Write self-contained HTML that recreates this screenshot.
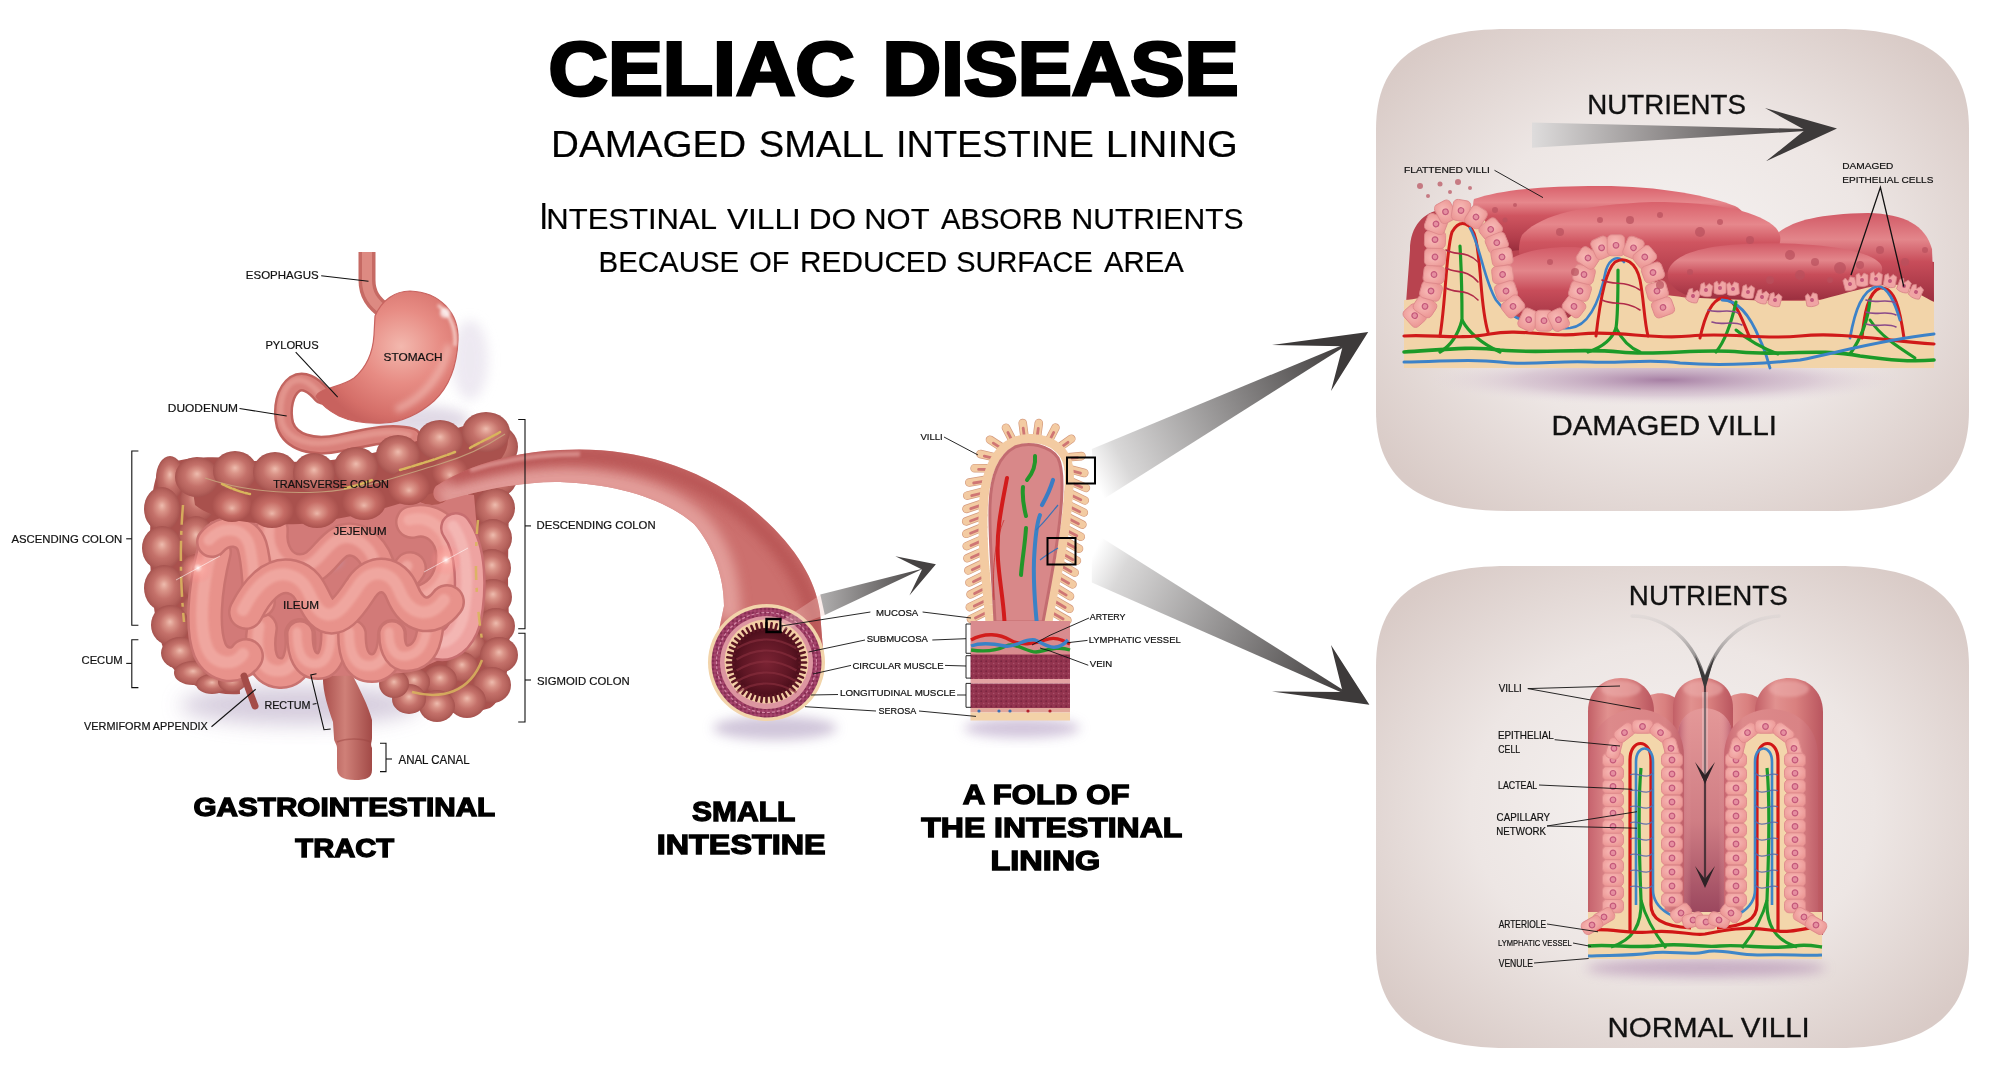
<!DOCTYPE html>
<html><head><meta charset="utf-8">
<style>
html,body{margin:0;padding:0;background:#fff;width:2000px;height:1071px;overflow:hidden}
svg{display:block;opacity:0.999}
text{font-family:"Liberation Sans",sans-serif}
</style></head>
<body>
<svg width="2000" height="1071" viewBox="0 0 2000 1071">
<defs>
<radialGradient id="pbg" cx="0.5" cy="0.5" r="0.62">
<stop offset="0" stop-color="#f6f3f2"/>
<stop offset="0.55" stop-color="#ede6e4"/>
<stop offset="1" stop-color="#d9cbc7"/>
</radialGradient>
<linearGradient id="shaft" x1="0" y1="0" x2="1" y2="0">
<stop offset="0" stop-color="#dcdada"/>
<stop offset="1" stop-color="#3f3b3b"/>
</linearGradient>
</defs>
<!-- panels -->
<path d="M1508,29 L1837,29 C1926.8,29 1969,61.0 1969,129 L1969,411 C1969,479.0 1926.8,511 1837,511 L1508,511 C1418.2,511 1376,479.0 1376,411 L1376,129 C1376,61.0 1418.2,29 1508,29 Z" fill="url(#pbg)"/>
<path d="M1508,566 L1837,566 C1926.8,566 1969,598.0 1969,666 L1969,948 C1969,1016.0 1926.8,1048 1837,1048 L1508,1048 C1418.2,1048 1376,1016.0 1376,948 L1376,666 C1376,598.0 1418.2,566 1508,566 Z" fill="url(#pbg)"/>
<defs>
<radialGradient id="hg" cx="0.5" cy="0.5" r="0.5" fx="0.5" fy="0.42">
<stop offset="0" stop-color="#eebcae"/>
<stop offset="0.25" stop-color="#da9488"/>
<stop offset="0.55" stop-color="#c4716a"/>
<stop offset="0.85" stop-color="#b3605a"/>
<stop offset="1" stop-color="#a6534f"/>
</radialGradient>
<radialGradient id="hg2" cx="0.5" cy="0.5" r="0.5" fx="0.5" fy="0.6">
<stop offset="0" stop-color="#ecb8aa"/>
<stop offset="0.2" stop-color="#dc968a"/>
<stop offset="0.55" stop-color="#c56c65"/>
<stop offset="1" stop-color="#a9514d"/>
</radialGradient>
<radialGradient id="stg2" cx="0.6" cy="0.42" r="0.62">
<stop offset="0" stop-color="#f3b8ae"/>
<stop offset="0.45" stop-color="#e78c84"/>
<stop offset="0.85" stop-color="#d56f69"/>
<stop offset="1" stop-color="#c8625e"/>
</radialGradient>
<linearGradient id="rect" x1="0" y1="0" x2="1" y2="0">
<stop offset="0" stop-color="#a94f4c"/>
<stop offset="0.45" stop-color="#cf8078"/>
<stop offset="1" stop-color="#a24a47"/>
</linearGradient>
<filter id="blur6" x="-50%" y="-50%" width="200%" height="200%"><feGaussianBlur stdDeviation="6"/></filter>
<filter id="blur10" x="-50%" y="-50%" width="200%" height="200%"><feGaussianBlur stdDeviation="10"/></filter>
<filter id="blur3" x="-50%" y="-50%" width="200%" height="200%"><feGaussianBlur stdDeviation="3"/></filter>
<filter id="blur2" x="-50%" y="-50%" width="200%" height="200%"><feGaussianBlur stdDeviation="1.6"/></filter>
</defs>

<g id="gi">
<ellipse cx="300" cy="705" rx="120" ry="20" fill="#d2c8da" filter="url(#blur10)" opacity="0.9"/>
<ellipse cx="420" cy="420" rx="50" ry="14" fill="#d9d0e0" filter="url(#blur6)" opacity="0.8"/>
<ellipse cx="470" cy="360" rx="18" ry="40" fill="#e6e0ec" filter="url(#blur6)" opacity="0.7"/>
<path d="M367,252 L367,280 C367,294 373,303 386,312" fill="none" stroke="#c66a64" stroke-width="17"/>
<path d="M367,252 L367,280 C367,294 373,303 386,312" fill="none" stroke="#dd8a82" stroke-width="10"/>
<path d="M322,395 C313,384 303,379 295,384 C285,391 281,408 285,425 C291,442 312,449 340,443 C368,437 392,431 412,437" fill="none" stroke="#c0625d" stroke-width="19" stroke-linecap="round"/>
<path d="M322,395 C313,384 303,379 295,384 C285,391 281,408 285,425 C291,442 312,449 340,443 C368,437 392,431 412,437" fill="none" stroke="#d9807a" stroke-width="14" stroke-linecap="round"/>
<path d="M322,395 C313,384 303,379 295,384 C285,391 281,408 285,425 C291,442 312,449 340,443 C368,437 392,431 412,437" fill="none" stroke="#e9a39a" stroke-width="6" stroke-linecap="round" transform="translate(-3,-2)" opacity="0.6" filter="url(#blur2)"/>
<path d="M375,316 C382,300 395,291 410,291 C440,292 459,313 458,340 C457,366 449,387 434,401 C418,415 400,422 384,423 C366,424 350,421 339,416 C329,411 321,404 316,397 C318,388 340,388 354,378 C367,367 373,351 374,335 Z" fill="url(#stg2)" stroke="#c8635f" stroke-width="1.2"/>
<path d="M438,305 C452,316 456,332 455,346" fill="none" stroke="#fbe0da" stroke-width="3" opacity="0.85" filter="url(#blur2)"/>
<path d="M396,410 C425,398 444,372 449,345" fill="none" stroke="#f7cdc5" stroke-width="7" opacity="0.55" filter="url(#blur3)"/>
<circle cx="445" cy="313" r="5" fill="#fff" opacity="0.7" filter="url(#blur2)"/>
<path d="M158,472 C168,458 200,456 232,458 L240,694 C218,696 192,688 176,672 C158,652 150,600 150,545 C150,510 152,486 158,472 Z" fill="#a9514d"/>
<path d="M468,425 C488,418 505,422 508,440 C511,500 506,560 509,620 C511,662 506,698 490,708 C468,716 430,714 400,702 C388,690 390,668 402,658 L468,640 Z" fill="#a9514d"/>
<ellipse cx="198" cy="500" rx="18" ry="22" fill="url(#hg)"/>
<ellipse cx="196" cy="538" rx="18" ry="22" fill="url(#hg)"/>
<ellipse cx="196" cy="576" rx="18" ry="22" fill="url(#hg)"/>
<ellipse cx="199" cy="612" rx="18" ry="20" fill="url(#hg)"/>
<ellipse cx="206" cy="645" rx="16" ry="18" fill="url(#hg)"/>
<ellipse cx="222" cy="668" rx="15" ry="15" fill="url(#hg)"/>
<ellipse cx="170" cy="478" rx="14" ry="22" fill="url(#hg)"/>
<ellipse cx="162" cy="509" rx="18" ry="22" fill="url(#hg)"/>
<ellipse cx="162" cy="548" rx="20" ry="22" fill="url(#hg)"/>
<ellipse cx="164" cy="588" rx="20" ry="23" fill="url(#hg)"/>
<ellipse cx="170" cy="625" rx="19" ry="20" fill="url(#hg)"/>
<ellipse cx="180" cy="653" rx="19" ry="16" fill="url(#hg)"/>
<ellipse cx="193" cy="673" rx="19" ry="12" fill="url(#hg)"/>
<ellipse cx="212" cy="684" rx="16" ry="10" fill="url(#hg)"/>
<ellipse cx="232" cy="682" rx="14" ry="10" fill="url(#hg)"/>
<ellipse cx="470" cy="645" rx="15" ry="15" fill="url(#hg)"/>
<ellipse cx="462" cy="667" rx="16" ry="15" fill="url(#hg)"/>
<ellipse cx="440" cy="680" rx="17" ry="15" fill="url(#hg)"/>
<ellipse cx="414" cy="682" rx="16" ry="14" fill="url(#hg)"/>
<ellipse cx="470" cy="620" rx="14" ry="14" fill="url(#hg)"/>
<ellipse cx="496" cy="447" rx="22" ry="22" fill="url(#hg)"/>
<ellipse cx="497" cy="478" rx="20" ry="19" fill="url(#hg)"/>
<ellipse cx="495" cy="508" rx="20" ry="20" fill="url(#hg)"/>
<ellipse cx="493" cy="538" rx="19" ry="19" fill="url(#hg)"/>
<ellipse cx="492" cy="568" rx="19" ry="19" fill="url(#hg)"/>
<ellipse cx="493" cy="597" rx="19" ry="18" fill="url(#hg)"/>
<ellipse cx="496" cy="626" rx="19" ry="18" fill="url(#hg)"/>
<ellipse cx="499" cy="655" rx="19" ry="18" fill="url(#hg)"/>
<ellipse cx="492" cy="685" rx="19" ry="18" fill="url(#hg)"/>
<ellipse cx="467" cy="701" rx="19" ry="17" fill="url(#hg)"/>
<ellipse cx="437" cy="706" rx="18" ry="16" fill="url(#hg)"/>
<ellipse cx="409" cy="699" rx="17" ry="15" fill="url(#hg)"/>
<ellipse cx="394" cy="684" rx="15" ry="14" fill="url(#hg)"/>
<path d="M323,674 C330,666 346,666 352,674 C360,690 368,705 372,720 L372,738 C372,742 370,744 372,748 L372,770 C372,778 366,780 355,780 C342,780 337,776 337,768 L337,748 C337,744 334,742 334,738 L333,722 C328,708 322,690 323,674 Z" fill="url(#rect)"/>
<path d="M337,742 C346,738 362,738 371,742" fill="none" stroke="#9c4542" stroke-width="1.5" opacity="0.5"/>
<path d="M210,522 C250,512 300,516 350,510 C400,500 440,490 474,495 C480,560 482,610 476,630 C468,650 440,660 410,672 C380,676 340,676 300,676 C262,676 232,676 214,670 C202,650 202,560 210,522 Z" fill="#d27a78"/>
<ellipse cx="432" cy="496" rx="16" ry="9" fill="#b25852"/>
<ellipse cx="262" cy="545" rx="14" ry="10" fill="#b9a6c8" opacity="0.8" filter="url(#blur3)"/>
<ellipse cx="330" cy="560" rx="12" ry="8" fill="#b9a6c8" opacity="0.6" filter="url(#blur3)"/>
<path d="M272,530 C270,550 280,570 300,570 C320,570 326,550 340,542 C356,534 372,547 378,564 C384,582 400,584 410,568" fill="none" stroke="#c97370" stroke-width="34" stroke-linecap="round" stroke-linejoin="round"/><path d="M272,530 C270,550 280,570 300,570 C320,570 326,550 340,542 C356,534 372,547 378,564 C384,582 400,584 410,568" fill="none" stroke="#e58e88" stroke-width="29" stroke-linecap="round" stroke-linejoin="round"/><path d="M272,530 C270,550 280,570 300,570 C320,570 326,550 340,542 C356,534 372,547 378,564 C384,582 400,584 410,568" fill="none" stroke="#f6b8b0" stroke-width="11" stroke-linecap="round" stroke-linejoin="round" opacity="0.55" transform="translate(-3,-2)" filter="url(#blur2)"/>
<path d="M412,522 C432,516 452,532 452,556 C452,580 440,594 425,600" fill="none" stroke="#c97370" stroke-width="34" stroke-linecap="round" stroke-linejoin="round"/><path d="M412,522 C432,516 452,532 452,556 C452,580 440,594 425,600" fill="none" stroke="#ec9a94" stroke-width="29" stroke-linecap="round" stroke-linejoin="round"/><path d="M412,522 C432,516 452,532 452,556 C452,580 440,594 425,600" fill="none" stroke="#f6b8b0" stroke-width="11" stroke-linecap="round" stroke-linejoin="round" opacity="0.55" transform="translate(-3,-2)" filter="url(#blur2)"/>
<path d="M456,528 C472,550 472,590 466,620 C460,640 448,648 436,644" fill="none" stroke="#c76e70" stroke-width="32" stroke-linecap="round" stroke-linejoin="round"/><path d="M456,528 C472,550 472,590 466,620 C460,640 448,648 436,644" fill="none" stroke="#eea3a1" stroke-width="27" stroke-linecap="round" stroke-linejoin="round"/><path d="M456,528 C472,550 472,590 466,620 C460,640 448,648 436,644" fill="none" stroke="#f8c6c2" stroke-width="11" stroke-linecap="round" stroke-linejoin="round" opacity="0.55" transform="translate(-3,-2)" filter="url(#blur2)"/>
<path d="M262,628 C258,652 262,672 280,673 C298,674 302,652 300,634" fill="none" stroke="#c97370" stroke-width="32" stroke-linecap="round" stroke-linejoin="round"/><path d="M262,628 C258,652 262,672 280,673 C298,674 302,652 300,634" fill="none" stroke="#e8928b" stroke-width="27" stroke-linecap="round" stroke-linejoin="round"/><path d="M262,628 C258,652 262,672 280,673 C298,674 302,652 300,634" fill="none" stroke="#f6b8b0" stroke-width="11" stroke-linecap="round" stroke-linejoin="round" opacity="0.55" transform="translate(-3,-2)" filter="url(#blur2)"/>
<path d="M300,634 C300,655 306,666 318,666 C330,666 334,652 334,634" fill="none" stroke="#c97370" stroke-width="28" stroke-linecap="round" stroke-linejoin="round"/><path d="M300,634 C300,655 306,666 318,666 C330,666 334,652 334,634" fill="none" stroke="#e8928b" stroke-width="23" stroke-linecap="round" stroke-linejoin="round"/><path d="M300,634 C300,655 306,666 318,666 C330,666 334,652 334,634" fill="none" stroke="#f6b8b0" stroke-width="9" stroke-linecap="round" stroke-linejoin="round" opacity="0.55" transform="translate(-3,-2)" filter="url(#blur2)"/>
<path d="M352,634 C352,656 358,668 372,668 C386,668 392,652 392,634" fill="none" stroke="#c97370" stroke-width="30" stroke-linecap="round" stroke-linejoin="round"/><path d="M352,634 C352,656 358,668 372,668 C386,668 392,652 392,634" fill="none" stroke="#e8928b" stroke-width="25" stroke-linecap="round" stroke-linejoin="round"/><path d="M352,634 C352,656 358,668 372,668 C386,668 392,652 392,634" fill="none" stroke="#f6b8b0" stroke-width="10" stroke-linecap="round" stroke-linejoin="round" opacity="0.55" transform="translate(-3,-2)" filter="url(#blur2)"/>
<path d="M392,634 C392,650 398,660 410,658 C422,656 428,646 430,630" fill="none" stroke="#c97370" stroke-width="28" stroke-linecap="round" stroke-linejoin="round"/><path d="M392,634 C392,650 398,660 410,658 C422,656 428,646 430,630" fill="none" stroke="#e8928b" stroke-width="23" stroke-linecap="round" stroke-linejoin="round"/><path d="M392,634 C392,650 398,660 410,658 C422,656 428,646 430,630" fill="none" stroke="#f6b8b0" stroke-width="9" stroke-linecap="round" stroke-linejoin="round" opacity="0.55" transform="translate(-3,-2)" filter="url(#blur2)"/>
<path d="M214,552 C204,592 202,630 210,650 C218,668 238,668 246,656" fill="none" stroke="#c97370" stroke-width="36" stroke-linecap="round" stroke-linejoin="round"/><path d="M214,552 C204,592 202,630 210,650 C218,668 238,668 246,656" fill="none" stroke="#e8928b" stroke-width="31" stroke-linecap="round" stroke-linejoin="round"/><path d="M214,552 C204,592 202,630 210,650 C218,668 238,668 246,656" fill="none" stroke="#f6b8b0" stroke-width="12" stroke-linecap="round" stroke-linejoin="round" opacity="0.55" transform="translate(-3,-2)" filter="url(#blur2)"/>
<path d="M212,542 C224,528 246,528 252,546 C258,566 256,590 260,602" fill="none" stroke="#c97370" stroke-width="32" stroke-linecap="round" stroke-linejoin="round"/><path d="M212,542 C224,528 246,528 252,546 C258,566 256,590 260,602" fill="none" stroke="#e8928b" stroke-width="27" stroke-linecap="round" stroke-linejoin="round"/><path d="M212,542 C224,528 246,528 252,546 C258,566 256,590 260,602" fill="none" stroke="#f6b8b0" stroke-width="11" stroke-linecap="round" stroke-linejoin="round" opacity="0.55" transform="translate(-3,-2)" filter="url(#blur2)"/>
<path d="M246,612 C256,592 272,572 292,577 C312,582 312,602 322,612 C337,627 352,602 362,587 C374,570 394,572 402,592 C412,617 432,622 447,602" fill="none" stroke="#c97370" stroke-width="36" stroke-linecap="round" stroke-linejoin="round"/><path d="M246,612 C256,592 272,572 292,577 C312,582 312,602 322,612 C337,627 352,602 362,587 C374,570 394,572 402,592 C412,617 432,622 447,602" fill="none" stroke="#e8928b" stroke-width="31" stroke-linecap="round" stroke-linejoin="round"/><path d="M246,612 C256,592 272,572 292,577 C312,582 312,602 322,612 C337,627 352,602 362,587 C374,570 394,572 402,592 C412,617 432,622 447,602" fill="none" stroke="#f6b8b0" stroke-width="12" stroke-linecap="round" stroke-linejoin="round" opacity="0.55" transform="translate(-3,-2)" filter="url(#blur2)"/>
<path d="M190,472 C210,460 240,460 300,462 C360,462 420,440 470,424 C496,418 508,424 508,440 C508,466 472,482 442,490 C402,503 360,518 300,524 C250,526 210,518 195,505 Z" fill="#a9514d"/>
<ellipse cx="197" cy="477" rx="22" ry="20" fill="url(#hg)"/>
<ellipse cx="235" cy="471" rx="22" ry="20" fill="url(#hg)"/>
<ellipse cx="275" cy="472" rx="22" ry="20" fill="url(#hg)"/>
<ellipse cx="314" cy="473" rx="21" ry="20" fill="url(#hg)"/>
<ellipse cx="356" cy="467" rx="22" ry="20" fill="url(#hg)"/>
<ellipse cx="398" cy="455" rx="22" ry="20" fill="url(#hg)"/>
<ellipse cx="440" cy="440" rx="23" ry="20" fill="url(#hg)"/>
<ellipse cx="486" cy="432" rx="24" ry="20" fill="url(#hg)"/>
<ellipse cx="232" cy="505" rx="20" ry="17" fill="url(#hg2)"/>
<ellipse cx="272" cy="510" rx="22" ry="18" fill="url(#hg2)"/>
<ellipse cx="317" cy="510" rx="22" ry="18" fill="url(#hg2)"/>
<ellipse cx="364" cy="502" rx="22" ry="18" fill="url(#hg2)"/>
<ellipse cx="409" cy="487" rx="21" ry="18" fill="url(#hg2)"/>
<ellipse cx="450" cy="472" rx="18" ry="16" fill="url(#hg2)"/>
<path d="M205,478 C240,490 280,494 320,492 C360,490 400,476 440,464 C470,455 490,444 505,434" fill="none" stroke="#c7a27c" stroke-width="1.2" opacity="0.9"/>
<path d="M222,484 C230,488 240,492 250,494" fill="none" stroke="#d8b65c" stroke-width="2.5" stroke-linecap="round" stroke-dasharray="3 1.5 6 2"/>
<path d="M345,488 C355,486 362,484 372,480" fill="none" stroke="#d8b65c" stroke-width="2.5" stroke-linecap="round" stroke-dasharray="3 1.5 6 2"/>
<path d="M400,470 C420,464 440,458 455,452" fill="none" stroke="#d8b65c" stroke-width="2.5" stroke-linecap="round" stroke-dasharray="3 1.5 6 2"/>
<path d="M470,448 C480,442 490,438 500,432" fill="none" stroke="#d8b65c" stroke-width="2.5" stroke-linecap="round" stroke-dasharray="3 1.5 6 2"/>
<path d="M183,505 C180,540 180,580 184,622" fill="none" stroke="#d9b55e" stroke-width="2.5" opacity="0.9" stroke-dasharray="20 6 4 6"/>
<path d="M478,520 C474,560 476,600 482,640" fill="none" stroke="#d9b55e" stroke-width="2.5" opacity="0.9" stroke-dasharray="14 8 4 20"/>
<path d="M412,692 C442,700 470,692 482,660" fill="none" stroke="#d9b55e" stroke-width="2.5" opacity="0.85"/>
<path d="M244,676 C248,688 252,698 255,706" fill="none" stroke="#a44c48" stroke-width="7" stroke-linecap="round"/>
<radialGradient id="spark" cx="0.5" cy="0.5" r="0.5"><stop offset="0" stop-color="#ffffff" stop-opacity="0.95"/><stop offset="0.3" stop-color="#ffb0a8" stop-opacity="0.6"/><stop offset="1" stop-color="#ff8080" stop-opacity="0"/></radialGradient>
<circle cx="198" cy="568" r="16" fill="url(#spark)"/>
<path d="M176,580 L220,556" stroke="#fff" stroke-width="0.8" opacity="0.7"/>
<circle cx="446" cy="560" r="16" fill="url(#spark)"/>
<path d="M424,572 L468,548" stroke="#fff" stroke-width="0.8" opacity="0.7"/>
</g>
<defs>
<linearGradient id="tubeg" x1="0" y1="0" x2="0" y2="1">
<stop offset="0" stop-color="#dc8f8c"/>
<stop offset="0.5" stop-color="#d07774"/>
<stop offset="1" stop-color="#b95d5b"/>
</linearGradient>
<linearGradient id="tubeg2" x1="0" y1="0" x2="1" y2="0">
<stop offset="0" stop-color="#c4696a"/>
<stop offset="0.35" stop-color="#dd9390"/>
<stop offset="0.7" stop-color="#cd7270"/>
<stop offset="1" stop-color="#b25452"/>
</linearGradient>
<linearGradient id="arrg" x1="0" y1="0" x2="1" y2="0">
<stop offset="0" stop-color="#b0aeae"/>
<stop offset="1" stop-color="#464343"/>
</linearGradient>
<radialGradient id="lumen" cx="0.5" cy="0.5" r="0.5">
<stop offset="0" stop-color="#7a2333"/>
<stop offset="0.7" stop-color="#5e1624"/>
<stop offset="1" stop-color="#4a0e1a"/>
</radialGradient>
<pattern id="musc" width="4" height="4" patternUnits="userSpaceOnUse">
<rect width="4" height="4" fill="#9c3b63"/>
<circle cx="1" cy="1" r="0.9" fill="#7e2a4c"/>
<circle cx="3" cy="3" r="0.7" fill="#b55a7c"/>
</pattern>
</defs>
<g id="tube">
<ellipse cx="775" cy="728" rx="62" ry="12" fill="#cbbfd6" filter="url(#blur6)" opacity="0.9"/>
<clipPath id="tubeclip"><path d="M436,486 C470,464 515,452 560,450 C625,446 690,462 745,503 C790,538 815,575 820,612 L824,662 L712,662 L724,606 C724,575 712,545 694,524 C664,498 615,484 560,482 C520,481 475,492 440,502 C432,500 432,490 436,486 Z"/></clipPath>
<path d="M436,486 C470,464 515,452 560,450 C625,446 690,462 745,503 C790,538 815,575 820,612 L824,662 L712,662 L724,606 C724,575 712,545 694,524 C664,498 615,484 560,482 C520,481 475,492 440,502 C432,500 432,490 436,486 Z" fill="#cc706e"/>
<g clip-path="url(#tubeclip)">
<path d="M440,497 C480,485 520,478 560,478 C620,480 670,495 700,525 C722,550 730,580 730,620" fill="none" stroke="#e6a5a1" stroke-width="22" opacity="0.85" filter="url(#blur6)"/>
<path d="M450,478 C500,462 540,456 570,455 C630,455 690,472 738,508 C778,540 805,578 815,620 L818,662" fill="none" stroke="#b4504f" stroke-width="16" opacity="0.8" filter="url(#blur6)"/>
<path d="M470,470 C510,458 545,454 580,454" fill="none" stroke="#e9aaa6" stroke-width="5" opacity="0.6" filter="url(#blur2)"/>
</g>
<circle cx="766.5" cy="662.5" r="58.5" fill="#f2d4aa"/>
<circle cx="766.5" cy="662.5" r="55" fill="url(#musc)"/>
<circle cx="766.5" cy="662.5" r="50" fill="none" stroke="#d58aa6" stroke-width="1.2" stroke-dasharray="3 2"/>
<circle cx="766.5" cy="662.5" r="46.5" fill="#dc95a0"/>
<circle cx="766.5" cy="661.5" r="42" fill="#f3cfa6"/>
<circle cx="766.5" cy="662.5" r="34.5" fill="url(#lumen)"/>
<line x1="799.5" y1="662.5" x2="806.0" y2="662.5" stroke="#5a1522" stroke-width="2.6" stroke-linecap="round"/>
<line x1="799.2" y1="666.8" x2="805.7" y2="667.7" stroke="#5a1522" stroke-width="2.6" stroke-linecap="round"/>
<line x1="798.4" y1="671.0" x2="804.7" y2="672.7" stroke="#5a1522" stroke-width="2.6" stroke-linecap="round"/>
<line x1="797.0" y1="675.1" x2="803.0" y2="677.6" stroke="#5a1522" stroke-width="2.6" stroke-linecap="round"/>
<line x1="795.1" y1="679.0" x2="800.7" y2="682.2" stroke="#5a1522" stroke-width="2.6" stroke-linecap="round"/>
<line x1="792.7" y1="682.6" x2="797.8" y2="686.5" stroke="#5a1522" stroke-width="2.6" stroke-linecap="round"/>
<line x1="789.8" y1="685.8" x2="794.4" y2="690.4" stroke="#5a1522" stroke-width="2.6" stroke-linecap="round"/>
<line x1="786.6" y1="688.7" x2="790.5" y2="693.8" stroke="#5a1522" stroke-width="2.6" stroke-linecap="round"/>
<line x1="783.0" y1="691.1" x2="786.2" y2="696.7" stroke="#5a1522" stroke-width="2.6" stroke-linecap="round"/>
<line x1="779.1" y1="693.0" x2="781.6" y2="699.0" stroke="#5a1522" stroke-width="2.6" stroke-linecap="round"/>
<line x1="775.0" y1="694.4" x2="776.7" y2="700.7" stroke="#5a1522" stroke-width="2.6" stroke-linecap="round"/>
<line x1="770.8" y1="695.2" x2="771.7" y2="701.7" stroke="#5a1522" stroke-width="2.6" stroke-linecap="round"/>
<line x1="766.5" y1="695.5" x2="766.5" y2="702.0" stroke="#5a1522" stroke-width="2.6" stroke-linecap="round"/>
<line x1="762.2" y1="695.2" x2="761.3" y2="701.7" stroke="#5a1522" stroke-width="2.6" stroke-linecap="round"/>
<line x1="758.0" y1="694.4" x2="756.3" y2="700.7" stroke="#5a1522" stroke-width="2.6" stroke-linecap="round"/>
<line x1="753.9" y1="693.0" x2="751.4" y2="699.0" stroke="#5a1522" stroke-width="2.6" stroke-linecap="round"/>
<line x1="750.0" y1="691.1" x2="746.8" y2="696.7" stroke="#5a1522" stroke-width="2.6" stroke-linecap="round"/>
<line x1="746.4" y1="688.7" x2="742.5" y2="693.8" stroke="#5a1522" stroke-width="2.6" stroke-linecap="round"/>
<line x1="743.2" y1="685.8" x2="738.6" y2="690.4" stroke="#5a1522" stroke-width="2.6" stroke-linecap="round"/>
<line x1="740.3" y1="682.6" x2="735.2" y2="686.5" stroke="#5a1522" stroke-width="2.6" stroke-linecap="round"/>
<line x1="737.9" y1="679.0" x2="732.3" y2="682.2" stroke="#5a1522" stroke-width="2.6" stroke-linecap="round"/>
<line x1="736.0" y1="675.1" x2="730.0" y2="677.6" stroke="#5a1522" stroke-width="2.6" stroke-linecap="round"/>
<line x1="734.6" y1="671.0" x2="728.3" y2="672.7" stroke="#5a1522" stroke-width="2.6" stroke-linecap="round"/>
<line x1="733.8" y1="666.8" x2="727.3" y2="667.7" stroke="#5a1522" stroke-width="2.6" stroke-linecap="round"/>
<line x1="733.5" y1="662.5" x2="727.0" y2="662.5" stroke="#5a1522" stroke-width="2.6" stroke-linecap="round"/>
<line x1="733.8" y1="658.2" x2="727.3" y2="657.3" stroke="#5a1522" stroke-width="2.6" stroke-linecap="round"/>
<line x1="734.6" y1="654.0" x2="728.3" y2="652.3" stroke="#5a1522" stroke-width="2.6" stroke-linecap="round"/>
<line x1="736.0" y1="649.9" x2="730.0" y2="647.4" stroke="#5a1522" stroke-width="2.6" stroke-linecap="round"/>
<line x1="737.9" y1="646.0" x2="732.3" y2="642.8" stroke="#5a1522" stroke-width="2.6" stroke-linecap="round"/>
<line x1="740.3" y1="642.4" x2="735.2" y2="638.5" stroke="#5a1522" stroke-width="2.6" stroke-linecap="round"/>
<line x1="743.2" y1="639.2" x2="738.6" y2="634.6" stroke="#5a1522" stroke-width="2.6" stroke-linecap="round"/>
<line x1="746.4" y1="636.3" x2="742.5" y2="631.2" stroke="#5a1522" stroke-width="2.6" stroke-linecap="round"/>
<line x1="750.0" y1="633.9" x2="746.8" y2="628.3" stroke="#5a1522" stroke-width="2.6" stroke-linecap="round"/>
<line x1="753.9" y1="632.0" x2="751.4" y2="626.0" stroke="#5a1522" stroke-width="2.6" stroke-linecap="round"/>
<line x1="758.0" y1="630.6" x2="756.3" y2="624.3" stroke="#5a1522" stroke-width="2.6" stroke-linecap="round"/>
<line x1="762.2" y1="629.8" x2="761.3" y2="623.3" stroke="#5a1522" stroke-width="2.6" stroke-linecap="round"/>
<line x1="766.5" y1="629.5" x2="766.5" y2="623.0" stroke="#5a1522" stroke-width="2.6" stroke-linecap="round"/>
<line x1="770.8" y1="629.8" x2="771.7" y2="623.3" stroke="#5a1522" stroke-width="2.6" stroke-linecap="round"/>
<line x1="775.0" y1="630.6" x2="776.7" y2="624.3" stroke="#5a1522" stroke-width="2.6" stroke-linecap="round"/>
<line x1="779.1" y1="632.0" x2="781.6" y2="626.0" stroke="#5a1522" stroke-width="2.6" stroke-linecap="round"/>
<line x1="783.0" y1="633.9" x2="786.2" y2="628.3" stroke="#5a1522" stroke-width="2.6" stroke-linecap="round"/>
<line x1="786.6" y1="636.3" x2="790.5" y2="631.2" stroke="#5a1522" stroke-width="2.6" stroke-linecap="round"/>
<line x1="789.8" y1="639.2" x2="794.4" y2="634.6" stroke="#5a1522" stroke-width="2.6" stroke-linecap="round"/>
<line x1="792.7" y1="642.4" x2="797.8" y2="638.5" stroke="#5a1522" stroke-width="2.6" stroke-linecap="round"/>
<line x1="795.1" y1="646.0" x2="800.7" y2="642.8" stroke="#5a1522" stroke-width="2.6" stroke-linecap="round"/>
<line x1="797.0" y1="649.9" x2="803.0" y2="647.4" stroke="#5a1522" stroke-width="2.6" stroke-linecap="round"/>
<line x1="798.4" y1="654.0" x2="804.7" y2="652.3" stroke="#5a1522" stroke-width="2.6" stroke-linecap="round"/>
<line x1="799.2" y1="658.2" x2="805.7" y2="657.3" stroke="#5a1522" stroke-width="2.6" stroke-linecap="round"/>
<path d="M736.5,648.5 C756.5,636.5 776.5,636.5 796.5,648.5" fill="none" stroke="#8a3040" stroke-width="2.2" opacity="0.6"/>
<path d="M736.5,659.5 C756.5,647.5 776.5,647.5 796.5,659.5" fill="none" stroke="#8a3040" stroke-width="2.2" opacity="0.6"/>
<path d="M736.5,670.5 C756.5,658.5 776.5,658.5 796.5,670.5" fill="none" stroke="#8a3040" stroke-width="2.2" opacity="0.6"/>
<path d="M736.5,681.5 C756.5,669.5 776.5,669.5 796.5,681.5" fill="none" stroke="#8a3040" stroke-width="2.2" opacity="0.6"/>
<path d="M736.5,692.5 C756.5,680.5 776.5,680.5 796.5,692.5" fill="none" stroke="#8a3040" stroke-width="2.2" opacity="0.6"/>
<rect x="766.5" y="619" width="14" height="13" fill="none" stroke="#000" stroke-width="2.4"/>
<path d="M781,621 L821,594.4 L825,615 L781,631 Z" fill="#f4c8c4" opacity="0.35"/>
<path d="M820.3,594.4 L923.4,568.6 L824.8,615 Z" fill="url(#arrg)"/>
<path d="M895.4,556.3 L935.9,564.2 L909.4,595.5 L922,569.5 Z" fill="#454242"/>
</g>
<defs>
<linearGradient id="bigarr1" gradientUnits="userSpaceOnUse" x1="1092" y1="475" x2="1343" y2="345">
<stop offset="0" stop-color="#ffffff"/>
<stop offset="0.12" stop-color="#d9d8d8"/>
<stop offset="1" stop-color="#3f3c3c"/>
</linearGradient>
<linearGradient id="bigarr2" gradientUnits="userSpaceOnUse" x1="1092" y1="556" x2="1343" y2="692">
<stop offset="0" stop-color="#ffffff"/>
<stop offset="0.12" stop-color="#d9d8d8"/>
<stop offset="1" stop-color="#3f3c3c"/>
</linearGradient>
</defs>
<g id="arrows">
<path d="M1091.8,449 L1342.7,345 L1344,347 L1095.7,504 Z" fill="url(#bigarr1)"/>
<path d="M1272,345 L1368.2,332 L1331,391 L1342.7,346.3 Z" fill="#3d3a3a"/>
<path d="M1091.8,531.4 L1344,690.5 L1342.7,693 L1091.8,582.4 Z" fill="url(#bigarr2)"/>
<path d="M1331,645 L1369.4,704.7 L1272,691.4 L1342.7,692 Z" fill="#3d3a3a"/>
</g>
<defs>
<pattern id="musc2" width="5" height="5" patternUnits="userSpaceOnUse">
<rect width="5" height="5" fill="#93344f"/>
<circle cx="1.2" cy="1.2" r="1" fill="#7a2540"/>
<circle cx="3.7" cy="3.5" r="0.8" fill="#a8506a"/>
</pattern>
</defs>
<g id="fold">
<ellipse cx="1022" cy="728" rx="58" ry="10" fill="#cdbfd8" filter="url(#blur6)" opacity="0.9"/>
<line x1="988.9" y1="610.1" x2="970.9" y2="619.0" stroke="#d49a7e" stroke-width="8.6" stroke-linecap="round"/>
<line x1="987.8" y1="598.3" x2="969.8" y2="607.1" stroke="#d49a7e" stroke-width="8.6" stroke-linecap="round"/>
<line x1="986.7" y1="586.4" x2="970.5" y2="594.4" stroke="#d49a7e" stroke-width="8.6" stroke-linecap="round"/>
<line x1="985.5" y1="574.6" x2="969.4" y2="582.5" stroke="#d49a7e" stroke-width="8.6" stroke-linecap="round"/>
<line x1="984.5" y1="562.7" x2="968.3" y2="570.4" stroke="#d49a7e" stroke-width="8.6" stroke-linecap="round"/>
<line x1="983.8" y1="550.8" x2="967.4" y2="558.2" stroke="#d49a7e" stroke-width="8.6" stroke-linecap="round"/>
<line x1="983.2" y1="538.9" x2="966.7" y2="546.1" stroke="#d49a7e" stroke-width="8.6" stroke-linecap="round"/>
<line x1="983.0" y1="527.0" x2="966.3" y2="533.8" stroke="#d49a7e" stroke-width="8.6" stroke-linecap="round"/>
<line x1="983.1" y1="515.1" x2="966.2" y2="521.4" stroke="#d49a7e" stroke-width="8.6" stroke-linecap="round"/>
<line x1="983.6" y1="503.2" x2="966.5" y2="508.9" stroke="#d49a7e" stroke-width="8.6" stroke-linecap="round"/>
<line x1="984.8" y1="491.3" x2="967.3" y2="495.6" stroke="#d49a7e" stroke-width="8.6" stroke-linecap="round"/>
<line x1="987.1" y1="479.6" x2="969.3" y2="482.5" stroke="#d49a7e" stroke-width="8.6" stroke-linecap="round"/>
<line x1="990.6" y1="468.3" x2="974.6" y2="468.2" stroke="#d49a7e" stroke-width="8.6" stroke-linecap="round"/>
<line x1="996.0" y1="457.6" x2="980.4" y2="454.0" stroke="#d49a7e" stroke-width="8.6" stroke-linecap="round"/>
<line x1="1003.4" y1="448.4" x2="990.0" y2="439.7" stroke="#d49a7e" stroke-width="8.6" stroke-linecap="round"/>
<line x1="1013.4" y1="442.0" x2="1006.0" y2="427.8" stroke="#d49a7e" stroke-width="8.6" stroke-linecap="round"/>
<line x1="1024.8" y1="438.9" x2="1022.7" y2="423.0" stroke="#d49a7e" stroke-width="8.6" stroke-linecap="round"/>
<line x1="1036.7" y1="439.0" x2="1038.8" y2="423.1" stroke="#d49a7e" stroke-width="8.6" stroke-linecap="round"/>
<line x1="1048.2" y1="441.9" x2="1055.5" y2="427.6" stroke="#d49a7e" stroke-width="8.6" stroke-linecap="round"/>
<line x1="1058.3" y1="448.1" x2="1071.3" y2="438.8" stroke="#d49a7e" stroke-width="8.6" stroke-linecap="round"/>
<line x1="1065.5" y1="457.5" x2="1081.5" y2="456.1" stroke="#d49a7e" stroke-width="8.6" stroke-linecap="round"/>
<line x1="1068.9" y1="468.9" x2="1084.3" y2="473.0" stroke="#d49a7e" stroke-width="8.6" stroke-linecap="round"/>
<line x1="1069.3" y1="480.8" x2="1085.9" y2="487.9" stroke="#d49a7e" stroke-width="8.6" stroke-linecap="round"/>
<line x1="1068.6" y1="492.7" x2="1084.8" y2="500.5" stroke="#d49a7e" stroke-width="8.6" stroke-linecap="round"/>
<line x1="1067.6" y1="504.6" x2="1083.8" y2="512.5" stroke="#d49a7e" stroke-width="8.6" stroke-linecap="round"/>
<line x1="1066.4" y1="516.4" x2="1082.4" y2="524.6" stroke="#d49a7e" stroke-width="8.6" stroke-linecap="round"/>
<line x1="1064.9" y1="528.2" x2="1080.8" y2="536.7" stroke="#d49a7e" stroke-width="8.6" stroke-linecap="round"/>
<line x1="1063.3" y1="540.0" x2="1079.0" y2="548.7" stroke="#d49a7e" stroke-width="8.6" stroke-linecap="round"/>
<line x1="1061.3" y1="551.8" x2="1076.9" y2="560.7" stroke="#d49a7e" stroke-width="8.6" stroke-linecap="round"/>
<line x1="1059.2" y1="563.5" x2="1074.7" y2="572.6" stroke="#d49a7e" stroke-width="8.6" stroke-linecap="round"/>
<line x1="1057.0" y1="575.2" x2="1072.5" y2="584.4" stroke="#d49a7e" stroke-width="8.6" stroke-linecap="round"/>
<line x1="1054.7" y1="586.9" x2="1070.0" y2="596.2" stroke="#d49a7e" stroke-width="8.6" stroke-linecap="round"/>
<line x1="1052.3" y1="598.6" x2="1069.5" y2="608.8" stroke="#d49a7e" stroke-width="8.6" stroke-linecap="round"/>
<line x1="1050.1" y1="610.3" x2="1067.4" y2="620.3" stroke="#d49a7e" stroke-width="8.6" stroke-linecap="round"/>
<line x1="988.9" y1="610.1" x2="970.9" y2="619.0" stroke="#f3cba2" stroke-width="7.2" stroke-linecap="round"/>
<line x1="987.8" y1="598.3" x2="969.8" y2="607.1" stroke="#f3cba2" stroke-width="7.2" stroke-linecap="round"/>
<line x1="986.7" y1="586.4" x2="970.5" y2="594.4" stroke="#f3cba2" stroke-width="7.2" stroke-linecap="round"/>
<line x1="985.5" y1="574.6" x2="969.4" y2="582.5" stroke="#f3cba2" stroke-width="7.2" stroke-linecap="round"/>
<line x1="984.5" y1="562.7" x2="968.3" y2="570.4" stroke="#f3cba2" stroke-width="7.2" stroke-linecap="round"/>
<line x1="983.8" y1="550.8" x2="967.4" y2="558.2" stroke="#f3cba2" stroke-width="7.2" stroke-linecap="round"/>
<line x1="983.2" y1="538.9" x2="966.7" y2="546.1" stroke="#f3cba2" stroke-width="7.2" stroke-linecap="round"/>
<line x1="983.0" y1="527.0" x2="966.3" y2="533.8" stroke="#f3cba2" stroke-width="7.2" stroke-linecap="round"/>
<line x1="983.1" y1="515.1" x2="966.2" y2="521.4" stroke="#f3cba2" stroke-width="7.2" stroke-linecap="round"/>
<line x1="983.6" y1="503.2" x2="966.5" y2="508.9" stroke="#f3cba2" stroke-width="7.2" stroke-linecap="round"/>
<line x1="984.8" y1="491.3" x2="967.3" y2="495.6" stroke="#f3cba2" stroke-width="7.2" stroke-linecap="round"/>
<line x1="987.1" y1="479.6" x2="969.3" y2="482.5" stroke="#f3cba2" stroke-width="7.2" stroke-linecap="round"/>
<line x1="990.6" y1="468.3" x2="974.6" y2="468.2" stroke="#f3cba2" stroke-width="7.2" stroke-linecap="round"/>
<line x1="996.0" y1="457.6" x2="980.4" y2="454.0" stroke="#f3cba2" stroke-width="7.2" stroke-linecap="round"/>
<line x1="1003.4" y1="448.4" x2="990.0" y2="439.7" stroke="#f3cba2" stroke-width="7.2" stroke-linecap="round"/>
<line x1="1013.4" y1="442.0" x2="1006.0" y2="427.8" stroke="#f3cba2" stroke-width="7.2" stroke-linecap="round"/>
<line x1="1024.8" y1="438.9" x2="1022.7" y2="423.0" stroke="#f3cba2" stroke-width="7.2" stroke-linecap="round"/>
<line x1="1036.7" y1="439.0" x2="1038.8" y2="423.1" stroke="#f3cba2" stroke-width="7.2" stroke-linecap="round"/>
<line x1="1048.2" y1="441.9" x2="1055.5" y2="427.6" stroke="#f3cba2" stroke-width="7.2" stroke-linecap="round"/>
<line x1="1058.3" y1="448.1" x2="1071.3" y2="438.8" stroke="#f3cba2" stroke-width="7.2" stroke-linecap="round"/>
<line x1="1065.5" y1="457.5" x2="1081.5" y2="456.1" stroke="#f3cba2" stroke-width="7.2" stroke-linecap="round"/>
<line x1="1068.9" y1="468.9" x2="1084.3" y2="473.0" stroke="#f3cba2" stroke-width="7.2" stroke-linecap="round"/>
<line x1="1069.3" y1="480.8" x2="1085.9" y2="487.9" stroke="#f3cba2" stroke-width="7.2" stroke-linecap="round"/>
<line x1="1068.6" y1="492.7" x2="1084.8" y2="500.5" stroke="#f3cba2" stroke-width="7.2" stroke-linecap="round"/>
<line x1="1067.6" y1="504.6" x2="1083.8" y2="512.5" stroke="#f3cba2" stroke-width="7.2" stroke-linecap="round"/>
<line x1="1066.4" y1="516.4" x2="1082.4" y2="524.6" stroke="#f3cba2" stroke-width="7.2" stroke-linecap="round"/>
<line x1="1064.9" y1="528.2" x2="1080.8" y2="536.7" stroke="#f3cba2" stroke-width="7.2" stroke-linecap="round"/>
<line x1="1063.3" y1="540.0" x2="1079.0" y2="548.7" stroke="#f3cba2" stroke-width="7.2" stroke-linecap="round"/>
<line x1="1061.3" y1="551.8" x2="1076.9" y2="560.7" stroke="#f3cba2" stroke-width="7.2" stroke-linecap="round"/>
<line x1="1059.2" y1="563.5" x2="1074.7" y2="572.6" stroke="#f3cba2" stroke-width="7.2" stroke-linecap="round"/>
<line x1="1057.0" y1="575.2" x2="1072.5" y2="584.4" stroke="#f3cba2" stroke-width="7.2" stroke-linecap="round"/>
<line x1="1054.7" y1="586.9" x2="1070.0" y2="596.2" stroke="#f3cba2" stroke-width="7.2" stroke-linecap="round"/>
<line x1="1052.3" y1="598.6" x2="1069.5" y2="608.8" stroke="#f3cba2" stroke-width="7.2" stroke-linecap="round"/>
<line x1="1050.1" y1="610.3" x2="1067.4" y2="620.3" stroke="#f3cba2" stroke-width="7.2" stroke-linecap="round"/>
<line x1="988.9" y1="611.3" x2="975.4" y2="618.0" stroke="#cf7674" stroke-width="2.8" stroke-linecap="round"/>
<line x1="987.8" y1="599.5" x2="974.3" y2="606.1" stroke="#cf7674" stroke-width="2.8" stroke-linecap="round"/>
<line x1="986.7" y1="587.6" x2="974.6" y2="593.6" stroke="#cf7674" stroke-width="2.8" stroke-linecap="round"/>
<line x1="985.5" y1="575.8" x2="973.4" y2="581.7" stroke="#cf7674" stroke-width="2.8" stroke-linecap="round"/>
<line x1="984.5" y1="563.9" x2="972.3" y2="569.7" stroke="#cf7674" stroke-width="2.8" stroke-linecap="round"/>
<line x1="983.8" y1="552.0" x2="971.5" y2="557.6" stroke="#cf7674" stroke-width="2.8" stroke-linecap="round"/>
<line x1="983.2" y1="540.1" x2="970.9" y2="545.5" stroke="#cf7674" stroke-width="2.8" stroke-linecap="round"/>
<line x1="983.0" y1="528.2" x2="970.5" y2="533.3" stroke="#cf7674" stroke-width="2.8" stroke-linecap="round"/>
<line x1="983.1" y1="516.3" x2="970.5" y2="521.0" stroke="#cf7674" stroke-width="2.8" stroke-linecap="round"/>
<line x1="983.6" y1="504.4" x2="970.8" y2="508.7" stroke="#cf7674" stroke-width="2.8" stroke-linecap="round"/>
<line x1="984.8" y1="492.5" x2="971.7" y2="495.7" stroke="#cf7674" stroke-width="2.8" stroke-linecap="round"/>
<line x1="987.1" y1="480.8" x2="973.7" y2="483.0" stroke="#cf7674" stroke-width="2.8" stroke-linecap="round"/>
<line x1="990.6" y1="469.5" x2="978.6" y2="469.4" stroke="#cf7674" stroke-width="2.8" stroke-linecap="round"/>
<line x1="996.0" y1="458.8" x2="984.3" y2="456.1" stroke="#cf7674" stroke-width="2.8" stroke-linecap="round"/>
<line x1="1003.4" y1="449.6" x2="993.3" y2="443.1" stroke="#cf7674" stroke-width="2.8" stroke-linecap="round"/>
<line x1="1013.4" y1="443.2" x2="1007.9" y2="432.5" stroke="#cf7674" stroke-width="2.8" stroke-linecap="round"/>
<line x1="1024.8" y1="440.1" x2="1023.2" y2="428.2" stroke="#cf7674" stroke-width="2.8" stroke-linecap="round"/>
<line x1="1036.7" y1="440.2" x2="1038.3" y2="428.3" stroke="#cf7674" stroke-width="2.8" stroke-linecap="round"/>
<line x1="1048.2" y1="443.1" x2="1053.7" y2="432.4" stroke="#cf7674" stroke-width="2.8" stroke-linecap="round"/>
<line x1="1058.3" y1="449.3" x2="1068.0" y2="442.3" stroke="#cf7674" stroke-width="2.8" stroke-linecap="round"/>
<line x1="1065.5" y1="458.7" x2="1077.5" y2="457.7" stroke="#cf7674" stroke-width="2.8" stroke-linecap="round"/>
<line x1="1068.9" y1="470.1" x2="1080.5" y2="473.2" stroke="#cf7674" stroke-width="2.8" stroke-linecap="round"/>
<line x1="1069.3" y1="482.0" x2="1081.7" y2="487.3" stroke="#cf7674" stroke-width="2.8" stroke-linecap="round"/>
<line x1="1068.6" y1="493.9" x2="1080.8" y2="499.7" stroke="#cf7674" stroke-width="2.8" stroke-linecap="round"/>
<line x1="1067.6" y1="505.8" x2="1079.7" y2="511.7" stroke="#cf7674" stroke-width="2.8" stroke-linecap="round"/>
<line x1="1066.4" y1="517.6" x2="1078.4" y2="523.8" stroke="#cf7674" stroke-width="2.8" stroke-linecap="round"/>
<line x1="1064.9" y1="529.4" x2="1076.8" y2="535.8" stroke="#cf7674" stroke-width="2.8" stroke-linecap="round"/>
<line x1="1063.3" y1="541.2" x2="1075.1" y2="547.8" stroke="#cf7674" stroke-width="2.8" stroke-linecap="round"/>
<line x1="1061.3" y1="553.0" x2="1073.0" y2="559.7" stroke="#cf7674" stroke-width="2.8" stroke-linecap="round"/>
<line x1="1059.2" y1="564.7" x2="1070.9" y2="571.5" stroke="#cf7674" stroke-width="2.8" stroke-linecap="round"/>
<line x1="1057.0" y1="576.4" x2="1068.6" y2="583.3" stroke="#cf7674" stroke-width="2.8" stroke-linecap="round"/>
<line x1="1054.7" y1="588.1" x2="1066.2" y2="595.1" stroke="#cf7674" stroke-width="2.8" stroke-linecap="round"/>
<line x1="1052.3" y1="599.8" x2="1065.2" y2="607.5" stroke="#cf7674" stroke-width="2.8" stroke-linecap="round"/>
<line x1="1050.1" y1="611.5" x2="1063.1" y2="619.0" stroke="#cf7674" stroke-width="2.8" stroke-linecap="round"/>
<path d="M990.0,622.0 L989.9,621.1 L989.8,620.1 L989.7,619.0 L989.6,617.7 L989.5,616.3 L989.3,614.8 L989.2,613.3 L989.0,611.6 L988.9,609.9 L988.7,608.2 L988.5,606.4 L988.3,604.6 L988.2,602.7 L988.0,600.8 L987.8,599.0 L987.6,597.1 L987.5,595.3 L987.3,593.5 L987.2,591.7 L987.0,590.0 L986.8,588.3 L986.7,586.6 L986.5,584.9 L986.4,583.2 L986.2,581.5 L986.0,579.7 L985.9,578.0 L985.7,576.2 L985.5,574.5 L985.4,572.7 L985.2,570.9 L985.1,569.1 L984.9,567.4 L984.8,565.6 L984.6,563.8 L984.5,562.0 L984.3,560.3 L984.2,558.5 L984.1,556.8 L984.0,555.0 L983.9,553.2 L983.8,551.5 L983.7,549.7 L983.6,547.9 L983.5,546.1 L983.5,544.3 L983.4,542.6 L983.3,540.8 L983.2,539.0 L983.2,537.2 L983.1,535.4 L983.1,533.6 L983.0,531.9 L983.0,530.1 L983.0,528.4 L983.0,526.7 L983.0,525.0 L983.0,523.3 L983.0,521.6 L983.0,520.0 L983.0,518.4 L983.1,516.8 L983.1,515.2 L983.1,513.6 L983.2,512.0 L983.2,510.5 L983.3,508.9 L983.3,507.4 L983.4,505.9 L983.5,504.4 L983.6,502.9 L983.7,501.4 L983.8,499.9 L983.9,498.5 L984.1,497.0 L984.2,495.6 L984.4,494.2 L984.6,492.8 L984.8,491.4 L985.0,490.0 L985.2,488.6 L985.5,487.3 L985.7,485.9 L986.0,484.6 L986.3,483.2 L986.5,481.9 L986.8,480.6 L987.2,479.3 L987.5,478.0 L987.8,476.8 L988.2,475.5 L988.5,474.3 L988.9,473.0 L989.3,471.8 L989.7,470.6 L990.1,469.5 L990.6,468.3 L991.0,467.2 L991.5,466.1 L992.0,465.0 L992.5,463.9 L993.0,462.9 L993.6,461.8 L994.1,460.8 L994.7,459.8 L995.3,458.8 L995.9,457.8 L996.5,456.8 L997.1,455.9 L997.8,454.9 L998.4,454.0 L999.1,453.1 L999.8,452.3 L1000.5,451.4 L1001.2,450.6 L1001.9,449.8 L1002.7,449.1 L1003.4,448.4 L1004.2,447.7 L1005.0,447.0 L1005.8,446.4 L1006.6,445.8 L1007.5,445.2 L1008.4,444.6 L1009.3,444.1 L1010.2,443.6 L1011.1,443.1 L1012.0,442.6 L1013.0,442.2 L1013.9,441.8 L1014.9,441.4 L1015.9,441.0 L1016.9,440.7 L1017.9,440.3 L1018.9,440.1 L1019.9,439.8 L1020.9,439.6 L1022.0,439.4 L1023.0,439.2 L1024.0,439.0 L1025.0,438.9 L1026.1,438.8 L1027.2,438.7 L1028.3,438.6 L1029.4,438.6 L1030.6,438.6 L1031.7,438.6 L1032.9,438.6 L1034.0,438.7 L1035.2,438.8 L1036.3,438.9 L1037.5,439.1 L1038.6,439.2 L1039.7,439.4 L1040.9,439.6 L1041.9,439.9 L1043.0,440.1 L1044.0,440.4 L1045.0,440.7 L1046.0,441.0 L1046.9,441.3 L1047.9,441.7 L1048.8,442.1 L1049.7,442.5 L1050.6,443.0 L1051.5,443.4 L1052.4,443.9 L1053.3,444.4 L1054.1,444.9 L1054.9,445.5 L1055.7,446.1 L1056.5,446.7 L1057.3,447.3 L1058.1,447.9 L1058.8,448.5 L1059.5,449.2 L1060.1,449.9 L1060.8,450.6 L1061.4,451.3 L1062.0,452.0 L1062.6,452.7 L1063.1,453.5 L1063.6,454.2 L1064.1,455.0 L1064.6,455.7 L1065.0,456.5 L1065.4,457.3 L1065.8,458.1 L1066.2,459.0 L1066.6,459.8 L1066.9,460.7 L1067.2,461.6 L1067.5,462.5 L1067.8,463.5 L1068.0,464.5 L1068.3,465.5 L1068.5,466.6 L1068.7,467.7 L1068.8,468.8 L1069.0,470.0 L1069.1,471.2 L1069.2,472.5 L1069.3,473.8 L1069.4,475.2 L1069.4,476.5 L1069.4,478.0 L1069.4,479.4 L1069.3,480.9 L1069.3,482.4 L1069.2,483.9 L1069.1,485.5 L1069.0,487.1 L1068.9,488.7 L1068.8,490.3 L1068.6,491.9 L1068.5,493.5 L1068.4,495.1 L1068.3,496.7 L1068.1,498.4 L1068.0,500.0 L1067.9,501.6 L1067.7,503.3 L1067.6,505.0 L1067.4,506.7 L1067.3,508.4 L1067.1,510.1 L1066.9,511.9 L1066.7,513.6 L1066.5,515.4 L1066.3,517.2 L1066.1,519.0 L1065.9,520.8 L1065.7,522.6 L1065.4,524.3 L1065.2,526.1 L1065.0,527.9 L1064.7,529.7 L1064.5,531.5 L1064.2,533.2 L1064.0,535.0 L1063.7,536.8 L1063.5,538.5 L1063.2,540.3 L1062.9,542.1 L1062.6,543.9 L1062.3,545.7 L1062.0,547.4 L1061.7,549.2 L1061.4,551.0 L1061.1,552.8 L1060.8,554.6 L1060.5,556.4 L1060.2,558.1 L1059.9,559.9 L1059.5,561.6 L1059.2,563.3 L1058.9,565.0 L1058.6,566.7 L1058.3,568.4 L1058.0,570.0 L1057.7,571.6 L1057.4,573.2 L1057.1,574.8 L1056.8,576.4 L1056.5,578.0 L1056.1,579.6 L1055.8,581.2 L1055.5,582.7 L1055.2,584.3 L1054.9,585.8 L1054.6,587.3 L1054.3,588.8 L1054.0,590.3 L1053.7,591.7 L1053.4,593.2 L1053.1,594.6 L1052.8,596.0 L1052.5,597.3 L1052.3,598.7 L1052.0,600.0 L1051.8,601.3 L1051.5,602.6 L1051.3,603.9 L1051.0,605.3 L1050.8,606.6 L1050.5,607.9 L1050.3,609.2 L1050.1,610.4 L1049.8,611.7 L1049.6,612.9 L1049.4,614.0 L1049.2,615.2 L1049.0,616.2 L1048.8,617.3 L1048.7,618.2 L1048.5,619.1 L1048.4,620.0 L1048.2,620.7 L1048.1,621.4 L1048.0,622.0" fill="none" stroke="#f3cba2" stroke-width="9" stroke-linejoin="round"/>
<path d="M995,622 C993,580 989,540 990,505 C991,475 1000,455 1015,447 C1030,441 1050,446 1058,458 C1065,472 1062,505 1058,535 C1054,565 1048,595 1043,622 Z" fill="#d88889" stroke="#c36c70" stroke-width="3"/>
<path d="M1003,650 C1008,620 1000,590 998,560 C996,530 1002,505 1007,478" fill="none" stroke="#d21c1c" stroke-width="4" stroke-linecap="round"/>
<path d="M1004,520 C996,540 992,560 994,600" fill="none" stroke="#c82a2a" stroke-width="1" opacity="0.7"/>
<path d="M1040,652 C1036,620 1033,590 1034,560 C1035,540 1036,525 1040,515" fill="none" stroke="#3b82c6" stroke-width="4" stroke-linecap="round"/>
<path d="M1036,530 C1045,522 1052,512 1058,505" fill="none" stroke="#3b72b6" stroke-width="1.2"/>
<path d="M1040,560 C1046,555 1052,552 1058,548" fill="none" stroke="#3b72b6" stroke-width="1.2"/>
<path d="M1053,480 C1050,490 1046,498 1042,505" fill="none" stroke="#3b7cc4" stroke-width="4.2" stroke-linecap="round"/>
<path d="M1035,456 C1036,466 1032,474 1027,480" fill="none" stroke="#23962a" stroke-width="4" stroke-linecap="round"/>
<path d="M1023,487 C1022,498 1024,508 1026,516" fill="none" stroke="#23962a" stroke-width="4" stroke-linecap="round"/>
<path d="M1026,528 C1025,545 1022,560 1021,575" fill="none" stroke="#23962a" stroke-width="4" stroke-linecap="round"/>
<rect x="970.5" y="621" width="99.5" height="34" fill="#d98b8e"/>
<rect x="970.5" y="654.5" width="99.5" height="24.5" fill="url(#musc2)"/>
<rect x="970.5" y="679" width="99.5" height="4.5" fill="#e4a3a3"/>
<rect x="970.5" y="683.5" width="99.5" height="24.5" fill="url(#musc2)"/>
<rect x="970.5" y="708" width="99.5" height="4.5" fill="#e2a89c"/>
<rect x="970.5" y="712.5" width="99.5" height="8" fill="#f3d2a8"/>
<circle cx="979" cy="711" r="1.6" fill="#3a6fb0"/>
<circle cx="999" cy="711" r="1.6" fill="#3a6fb0"/>
<circle cx="1010" cy="711" r="1.6" fill="#3a6fb0"/>
<circle cx="1028" cy="711" r="1.6" fill="#b2202a"/>
<circle cx="1050" cy="711" r="1.6" fill="#b2202a"/>
<path d="M971,640 C985,632 1000,634 1010,640 C1020,646 1035,644 1045,640 C1055,636 1062,640 1070,644" fill="none" stroke="#d21c1c" stroke-width="3.4"/>
<path d="M971,650 C985,652 998,650 1006,646 C1016,642 1026,652 1036,652 C1048,650 1058,646 1070,650" fill="none" stroke="#23962a" stroke-width="3.4"/>
<path d="M971,646 C982,642 995,644 1005,646 C1015,648 1025,638 1035,640 C1045,644 1055,654 1068,640" fill="none" stroke="#3b82c6" stroke-width="3.4"/>
<rect x="1067" y="457.5" width="28" height="26" fill="none" stroke="#000" stroke-width="2"/>
<rect x="1047.5" y="538" width="28" height="26.5" fill="none" stroke="#000" stroke-width="2"/>
</g>
<defs>
<linearGradient id="saus" x1="0" y1="0" x2="0" y2="1">
<stop offset="0" stop-color="#d9616b"/>
<stop offset="0.25" stop-color="#e6878c"/>
<stop offset="0.45" stop-color="#cf5560"/>
<stop offset="0.8" stop-color="#b23d4b"/>
<stop offset="1" stop-color="#962c3b"/>
</linearGradient>
<linearGradient id="saus2" x1="0" y1="0" x2="0" y2="1">
<stop offset="0" stop-color="#d25a66"/>
<stop offset="0.3" stop-color="#e3868b"/>
<stop offset="0.55" stop-color="#c84d5a"/>
<stop offset="1" stop-color="#9b2f3f"/>
</linearGradient>
<linearGradient id="shaftg" x1="0" y1="0" x2="1" y2="0">
<stop offset="0" stop-color="#dedcdc"/>
<stop offset="0.5" stop-color="#8e8a8a"/>
<stop offset="1" stop-color="#3f3b3b"/>
</linearGradient>
<radialGradient id="purpsh" cx="0.5" cy="0.5" r="0.5">
<stop offset="0" stop-color="#8d5a8c" stop-opacity="0.75"/>
<stop offset="0.6" stop-color="#b592b4" stop-opacity="0.35"/>
<stop offset="1" stop-color="#e8dde6" stop-opacity="0"/>
</radialGradient>
</defs>
<g id="damaged">
<path d="M1532,122.5 L1806,129 L1806,131 L1532,147.7 Z" fill="url(#shaftg)"/>
<path d="M1765,108 L1837,128.5 L1766,161.3 L1805,130 Z" fill="#3d3a3a"/>
<ellipse cx="1665" cy="380" rx="240" ry="26" fill="url(#purpsh)"/>
<path d="M1412,240 C1430,215 1460,205 1500,215 C1600,225 1700,230 1760,245 C1800,250 1900,255 1934,262 L1934,330 L1412,330 Z" fill="#b8434f"/>
<path d="M1474,199 C1500,190 1540,186 1600,186 C1660,186 1710,196 1735,206 C1748,213 1748,224 1735,230 L1500,252 C1480,240 1470,210 1474,199 Z" fill="url(#saus)"/>
<path d="M1779,232 C1795,220 1820,214 1868,213 C1905,214 1925,225 1932,249 L1934,301 C1915,303 1890,300 1870,296 L1790,268 C1775,255 1772,240 1779,232 Z" fill="url(#saus2)"/>
<path d="M1522,235 C1540,215 1580,205 1652,202 C1720,202 1760,212 1776,228 C1786,240 1778,254 1760,258 L1540,292 C1520,275 1515,250 1522,235 Z" fill="url(#saus)"/>
<path d="M1505,262 C1520,252 1545,246 1575,247 C1600,250 1620,262 1620,280 C1615,305 1590,325 1560,326 C1530,325 1508,300 1505,262 Z" fill="url(#saus2)"/>
<path d="M1668,271 C1672,258 1690,250 1720,246 C1760,241 1810,243 1844,249 C1870,254 1884,262 1882,270 C1880,285 1865,292 1856,295 C1830,300 1800,300 1772,300 C1740,300 1712,300 1700,299 C1680,295 1665,285 1668,271 Z" fill="url(#saus2)"/>
<path d="M1410,250 C1410,225 1425,212 1440,210 L1460,330 L1404,330 Z" fill="#b8434f"/>
<path d="M1404,300 C1420,300 1440,290 1460,300 L1520,320 C1560,330 1590,320 1610,300 C1640,285 1680,300 1700,298 C1740,300 1780,302 1820,300 C1850,292 1880,282 1900,285 C1915,290 1925,298 1934,302 L1934,368 L1404,368 Z" fill="#f2d4a9"/>
<path d="M1418,318 C1425,280 1430,240 1440,222 C1452,206 1478,206 1490,228 C1500,250 1502,290 1510,312 C1520,330 1560,330 1575,312 C1585,290 1588,260 1600,250 C1620,240 1640,245 1650,265 C1656,285 1660,310 1664,330 L1418,330 Z" fill="#f2d4a9"/>
<path d="M1440,336 C1446,300 1446,250 1452,232 C1460,218 1472,222 1476,240 C1482,270 1480,305 1488,332" fill="none" stroke="#d01a1a" stroke-width="3" stroke-linecap="round"/>
<path d="M1470,228 C1480,245 1484,280 1496,300 C1510,320 1540,330 1570,328 C1590,326 1600,300 1606,270 C1610,258 1618,255 1624,262" fill="none" stroke="#3c82c8" stroke-width="2.6" stroke-linecap="round"/>
<path d="M1460,246 C1462,280 1462,300 1462,320 C1458,335 1452,345 1440,352" fill="none" stroke="#1c9a28" stroke-width="3.2" stroke-linecap="round"/>
<path d="M1462,320 C1470,335 1485,345 1500,352" fill="none" stroke="#1c9a28" stroke-width="3.2" stroke-linecap="round"/>
<path d="M1596,336 C1600,300 1606,270 1615,262 C1625,256 1636,262 1640,280 C1644,300 1644,320 1648,336" fill="none" stroke="#d01a1a" stroke-width="3" stroke-linecap="round"/>
<path d="M1618,270 C1618,295 1618,315 1616,328 C1612,340 1600,348 1588,352" fill="none" stroke="#1c9a28" stroke-width="3.2" stroke-linecap="round"/>
<path d="M1616,328 C1622,340 1630,348 1640,352" fill="none" stroke="#1c9a28" stroke-width="3" stroke-linecap="round"/>
<path d="M1446,250 C1456,256 1466,250 1478,262" fill="none" stroke="#b02a48" stroke-width="1.6" stroke-linecap="round"/>
<path d="M1446,268 C1456,274 1466,268 1478,282" fill="none" stroke="#b02a48" stroke-width="1.6" stroke-linecap="round"/>
<path d="M1446,288 C1456,294 1466,288 1478,300" fill="none" stroke="#b02a48" stroke-width="1.6" stroke-linecap="round"/>
<path d="M1602,280 C1615,286 1625,280 1640,290" fill="none" stroke="#b02a48" stroke-width="1.6" stroke-linecap="round"/>
<path d="M1602,300 C1615,306 1625,300 1640,310" fill="none" stroke="#b02a48" stroke-width="1.6" stroke-linecap="round"/>
<path d="M1700,338 C1705,315 1712,300 1722,298 C1735,296 1742,320 1750,338" fill="none" stroke="#d01a1a" stroke-width="3" stroke-linecap="round"/>
<path d="M1722,300 C1740,300 1752,320 1760,340 C1766,352 1768,362 1770,368" fill="none" stroke="#3c82c8" stroke-width="2.8" stroke-linecap="round"/>
<path d="M1736,302 C1732,320 1726,340 1716,352" fill="none" stroke="#1c9a28" stroke-width="3.2" stroke-linecap="round"/>
<path d="M1736,330 C1748,340 1762,348 1778,354" fill="none" stroke="#1c9a28" stroke-width="3" stroke-linecap="round"/>
<path d="M1862,338 C1864,315 1868,292 1880,288 C1895,286 1900,310 1904,338" fill="none" stroke="#d01a1a" stroke-width="3" stroke-linecap="round"/>
<path d="M1850,338 C1855,310 1862,290 1878,286 C1888,288 1894,300 1900,320" fill="none" stroke="#3c82c8" stroke-width="2.8" stroke-linecap="round"/>
<path d="M1870,300 C1868,320 1860,340 1850,354" fill="none" stroke="#1c9a28" stroke-width="3.2" stroke-linecap="round"/>
<path d="M1870,320 C1880,335 1895,345 1915,358" fill="none" stroke="#1c9a28" stroke-width="3" stroke-linecap="round"/>
<path d="M1708,310 C1718,314 1728,308 1738,313" fill="none" stroke="#8a4a8a" stroke-width="1.6" stroke-linecap="round"/>
<path d="M1712,322 C1722,326 1732,320 1742,325" fill="none" stroke="#8a4a8a" stroke-width="1.6" stroke-linecap="round"/>
<path d="M1866,300 C1876,304 1886,298 1896,303" fill="none" stroke="#8a4a8a" stroke-width="1.6" stroke-linecap="round"/>
<path d="M1866,312 C1876,316 1886,310 1896,315" fill="none" stroke="#8a4a8a" stroke-width="1.6" stroke-linecap="round"/>
<path d="M1866,324 C1876,328 1886,322 1896,327" fill="none" stroke="#8a4a8a" stroke-width="1.6" stroke-linecap="round"/>
<path d="M1404,336 C1430,334 1460,340 1490,334 C1520,328 1550,338 1580,334 C1620,330 1650,340 1690,336 C1730,332 1760,340 1800,336 C1840,332 1880,340 1934,344" fill="none" stroke="#d01a1a" stroke-width="3.2" stroke-linecap="round"/>
<path d="M1404,352 C1440,350 1470,346 1500,350 C1540,354 1580,348 1620,352 C1660,356 1700,348 1740,352 C1780,356 1820,348 1860,356 C1890,360 1910,362 1934,360" fill="none" stroke="#1c9a28" stroke-width="3.6" stroke-linecap="round"/>
<path d="M1404,362 C1440,362 1470,358 1500,362 C1530,366 1560,360 1590,362 C1620,364 1650,358 1680,363 C1720,366 1760,364 1800,360 C1840,352 1880,340 1934,334" fill="none" stroke="#3c82c8" stroke-width="3" stroke-linecap="round"/>
<g transform="translate(1414.7,315.6) rotate(-41.8)"><rect x="-8.75" y="-10.5" width="17.5" height="21" rx="4.5" fill="url(#cellg)" stroke="#de8a8c" stroke-width="0.9"/><circle r="2.8" fill="#e58fa0" stroke="#c4587a" stroke-width="1.2"/></g>
<g transform="translate(1425.0,306.4) rotate(-56.5)"><rect x="-8.75" y="-10.5" width="17.5" height="21" rx="4.5" fill="url(#cellg)" stroke="#de8a8c" stroke-width="0.9"/><circle r="2.8" fill="#e58fa0" stroke="#c4587a" stroke-width="1.2"/></g>
<g transform="translate(1431.0,291.0) rotate(-74.2)"><rect x="-8.75" y="-10.5" width="17.5" height="21" rx="4.5" fill="url(#cellg)" stroke="#de8a8c" stroke-width="0.9"/><circle r="2.8" fill="#e58fa0" stroke="#c4587a" stroke-width="1.2"/></g>
<g transform="translate(1434.0,274.5) rotate(-83.3)"><rect x="-8.75" y="-10.5" width="17.5" height="21" rx="4.5" fill="url(#cellg)" stroke="#de8a8c" stroke-width="0.9"/><circle r="2.8" fill="#e58fa0" stroke="#c4587a" stroke-width="1.2"/></g>
<g transform="translate(1435.0,257.0) rotate(-88.4)"><rect x="-8.75" y="-10.5" width="17.5" height="21" rx="4.5" fill="url(#cellg)" stroke="#de8a8c" stroke-width="0.9"/><circle r="2.8" fill="#e58fa0" stroke="#c4587a" stroke-width="1.2"/></g>
<g transform="translate(1435.0,239.6) rotate(-88.3)"><rect x="-8.75" y="-10.5" width="17.5" height="21" rx="4.5" fill="url(#cellg)" stroke="#de8a8c" stroke-width="0.9"/><circle r="2.8" fill="#e58fa0" stroke="#c4587a" stroke-width="1.2"/></g>
<g transform="translate(1436.0,224.0) rotate(-69.3)"><rect x="-8.75" y="-10.5" width="17.5" height="21" rx="4.5" fill="url(#cellg)" stroke="#de8a8c" stroke-width="0.9"/><circle r="2.8" fill="#e58fa0" stroke="#c4587a" stroke-width="1.2"/></g>
<g transform="translate(1445.5,211.8) rotate(-28.4)"><rect x="-8.75" y="-10.5" width="17.5" height="21" rx="4.5" fill="url(#cellg)" stroke="#de8a8c" stroke-width="0.9"/><circle r="2.8" fill="#e58fa0" stroke="#c4587a" stroke-width="1.2"/></g>
<g transform="translate(1461.0,210.5) rotate(9.7)"><rect x="-8.75" y="-10.5" width="17.5" height="21" rx="4.5" fill="url(#cellg)" stroke="#de8a8c" stroke-width="0.9"/><circle r="2.8" fill="#e58fa0" stroke="#c4587a" stroke-width="1.2"/></g>
<g transform="translate(1476.0,217.0) rotate(32.5)"><rect x="-8.75" y="-10.5" width="17.5" height="21" rx="4.5" fill="url(#cellg)" stroke="#de8a8c" stroke-width="0.9"/><circle r="2.8" fill="#e58fa0" stroke="#c4587a" stroke-width="1.2"/></g>
<g transform="translate(1490.7,229.4) rotate(51.0)"><rect x="-8.75" y="-10.5" width="17.5" height="21" rx="4.5" fill="url(#cellg)" stroke="#de8a8c" stroke-width="0.9"/><circle r="2.8" fill="#e58fa0" stroke="#c4587a" stroke-width="1.2"/></g>
<g transform="translate(1496.8,242.7) rotate(67.7)"><rect x="-8.75" y="-10.5" width="17.5" height="21" rx="4.5" fill="url(#cellg)" stroke="#de8a8c" stroke-width="0.9"/><circle r="2.8" fill="#e58fa0" stroke="#c4587a" stroke-width="1.2"/></g>
<g transform="translate(1502.0,257.0) rotate(79.7)"><rect x="-8.75" y="-10.5" width="17.5" height="21" rx="4.5" fill="url(#cellg)" stroke="#de8a8c" stroke-width="0.9"/><circle r="2.8" fill="#e58fa0" stroke="#c4587a" stroke-width="1.2"/></g>
<g transform="translate(1502.6,274.5) rotate(83.3)"><rect x="-8.75" y="-10.5" width="17.5" height="21" rx="4.5" fill="url(#cellg)" stroke="#de8a8c" stroke-width="0.9"/><circle r="2.8" fill="#e58fa0" stroke="#c4587a" stroke-width="1.2"/></g>
<g transform="translate(1506.0,291.0) rotate(71.9)"><rect x="-8.75" y="-10.5" width="17.5" height="21" rx="4.5" fill="url(#cellg)" stroke="#de8a8c" stroke-width="0.9"/><circle r="2.8" fill="#e58fa0" stroke="#c4587a" stroke-width="1.2"/></g>
<g transform="translate(1513.0,306.4) rotate(51.7)"><rect x="-8.75" y="-10.5" width="17.5" height="21" rx="4.5" fill="url(#cellg)" stroke="#de8a8c" stroke-width="0.9"/><circle r="2.8" fill="#e58fa0" stroke="#c4587a" stroke-width="1.2"/></g>
<g transform="translate(1528.7,319.7) rotate(24.8)"><rect x="-8.75" y="-10.5" width="17.5" height="21" rx="4.5" fill="url(#cellg)" stroke="#de8a8c" stroke-width="0.9"/><circle r="2.8" fill="#e58fa0" stroke="#c4587a" stroke-width="1.2"/></g>
<g transform="translate(1544.0,320.7) rotate(0.0)"><rect x="-8.75" y="-10.5" width="17.5" height="21" rx="4.5" fill="url(#cellg)" stroke="#de8a8c" stroke-width="0.9"/><circle r="2.8" fill="#e58fa0" stroke="#c4587a" stroke-width="1.2"/></g>
<g transform="translate(1558.5,319.7) rotate(-25.5)"><rect x="-8.75" y="-10.5" width="17.5" height="21" rx="4.5" fill="url(#cellg)" stroke="#de8a8c" stroke-width="0.9"/><circle r="2.8" fill="#e58fa0" stroke="#c4587a" stroke-width="1.2"/></g>
<g transform="translate(1574.0,306.4) rotate(-53.2)"><rect x="-8.75" y="-10.5" width="17.5" height="21" rx="4.5" fill="url(#cellg)" stroke="#de8a8c" stroke-width="0.9"/><circle r="2.8" fill="#e58fa0" stroke="#c4587a" stroke-width="1.2"/></g>
<g transform="translate(1580.0,291.0) rotate(-72.6)"><rect x="-8.75" y="-10.5" width="17.5" height="21" rx="4.5" fill="url(#cellg)" stroke="#de8a8c" stroke-width="0.9"/><circle r="2.8" fill="#e58fa0" stroke="#c4587a" stroke-width="1.2"/></g>
<g transform="translate(1584.0,274.5) rotate(-76.4)"><rect x="-8.75" y="-10.5" width="17.5" height="21" rx="4.5" fill="url(#cellg)" stroke="#de8a8c" stroke-width="0.9"/><circle r="2.8" fill="#e58fa0" stroke="#c4587a" stroke-width="1.2"/></g>
<g transform="translate(1588.0,258.0) rotate(-56.6)"><rect x="-8.75" y="-10.5" width="17.5" height="21" rx="4.5" fill="url(#cellg)" stroke="#de8a8c" stroke-width="0.9"/><circle r="2.8" fill="#e58fa0" stroke="#c4587a" stroke-width="1.2"/></g>
<g transform="translate(1601.6,247.8) rotate(-24.4)"><rect x="-8.75" y="-10.5" width="17.5" height="21" rx="4.5" fill="url(#cellg)" stroke="#de8a8c" stroke-width="0.9"/><circle r="2.8" fill="#e58fa0" stroke="#c4587a" stroke-width="1.2"/></g>
<g transform="translate(1616.0,245.3) rotate(0.0)"><rect x="-8.75" y="-10.5" width="17.5" height="21" rx="4.5" fill="url(#cellg)" stroke="#de8a8c" stroke-width="0.9"/><circle r="2.8" fill="#e58fa0" stroke="#c4587a" stroke-width="1.2"/></g>
<g transform="translate(1633.5,247.8) rotate(22.1)"><rect x="-8.75" y="-10.5" width="17.5" height="21" rx="4.5" fill="url(#cellg)" stroke="#de8a8c" stroke-width="0.9"/><circle r="2.8" fill="#e58fa0" stroke="#c4587a" stroke-width="1.2"/></g>
<g transform="translate(1644.8,257.0) rotate(51.7)"><rect x="-8.75" y="-10.5" width="17.5" height="21" rx="4.5" fill="url(#cellg)" stroke="#de8a8c" stroke-width="0.9"/><circle r="2.8" fill="#e58fa0" stroke="#c4587a" stroke-width="1.2"/></g>
<g transform="translate(1653.0,272.5) rotate(70.3)"><rect x="-8.75" y="-10.5" width="17.5" height="21" rx="4.5" fill="url(#cellg)" stroke="#de8a8c" stroke-width="0.9"/><circle r="2.8" fill="#e58fa0" stroke="#c4587a" stroke-width="1.2"/></g>
<g transform="translate(1657.0,291.0) rotate(74.0)"><rect x="-8.75" y="-10.5" width="17.5" height="21" rx="4.5" fill="url(#cellg)" stroke="#de8a8c" stroke-width="0.9"/><circle r="2.8" fill="#e58fa0" stroke="#c4587a" stroke-width="1.2"/></g>
<g transform="translate(1663.0,307.4) rotate(69.9)"><rect x="-8.75" y="-10.5" width="17.5" height="21" rx="4.5" fill="url(#cellg)" stroke="#de8a8c" stroke-width="0.9"/><circle r="2.8" fill="#e58fa0" stroke="#c4587a" stroke-width="1.2"/></g>
<g transform="translate(1693,296) rotate(20)"><path d="M-6,-5 L-3,-7 L-1,-3 L2,-7 L6,-5 L6,5 C3,7 -3,7 -6,5 Z" fill="#f0a4a4" stroke="#d88488" stroke-width="0.8"/><circle r="2" fill="#c4587a"/></g>
<g transform="translate(1706,290) rotate(10)"><path d="M-6,-5 L-3,-7 L-1,-3 L2,-7 L6,-5 L6,5 C3,7 -3,7 -6,5 Z" fill="#f0a4a4" stroke="#d88488" stroke-width="0.8"/><circle r="2" fill="#c4587a"/></g>
<g transform="translate(1720,288) rotate(0)"><path d="M-6,-5 L-3,-7 L-1,-3 L2,-7 L6,-5 L6,5 C3,7 -3,7 -6,5 Z" fill="#f0a4a4" stroke="#d88488" stroke-width="0.8"/><circle r="2" fill="#c4587a"/></g>
<g transform="translate(1733,289) rotate(-5)"><path d="M-6,-5 L-3,-7 L-1,-3 L2,-7 L6,-5 L6,5 C3,7 -3,7 -6,5 Z" fill="#f0a4a4" stroke="#d88488" stroke-width="0.8"/><circle r="2" fill="#c4587a"/></g>
<g transform="translate(1748,292) rotate(10)"><path d="M-6,-5 L-3,-7 L-1,-3 L2,-7 L6,-5 L6,5 C3,7 -3,7 -6,5 Z" fill="#f0a4a4" stroke="#d88488" stroke-width="0.8"/><circle r="2" fill="#c4587a"/></g>
<g transform="translate(1762,297) rotate(20)"><path d="M-6,-5 L-3,-7 L-1,-3 L2,-7 L6,-5 L6,5 C3,7 -3,7 -6,5 Z" fill="#f0a4a4" stroke="#d88488" stroke-width="0.8"/><circle r="2" fill="#c4587a"/></g>
<g transform="translate(1775,300) rotate(15)"><path d="M-6,-5 L-3,-7 L-1,-3 L2,-7 L6,-5 L6,5 C3,7 -3,7 -6,5 Z" fill="#f0a4a4" stroke="#d88488" stroke-width="0.8"/><circle r="2" fill="#c4587a"/></g>
<g transform="translate(1812,300) rotate(-10)"><path d="M-6,-5 L-3,-7 L-1,-3 L2,-7 L6,-5 L6,5 C3,7 -3,7 -6,5 Z" fill="#f0a4a4" stroke="#d88488" stroke-width="0.8"/><circle r="2" fill="#c4587a"/></g>
<g transform="translate(1850,284) rotate(-15)"><path d="M-6,-5 L-3,-7 L-1,-3 L2,-7 L6,-5 L6,5 C3,7 -3,7 -6,5 Z" fill="#f0a4a4" stroke="#d88488" stroke-width="0.8"/><circle r="2" fill="#c4587a"/></g>
<g transform="translate(1862,280) rotate(0)"><path d="M-6,-5 L-3,-7 L-1,-3 L2,-7 L6,-5 L6,5 C3,7 -3,7 -6,5 Z" fill="#f0a4a4" stroke="#d88488" stroke-width="0.8"/><circle r="2" fill="#c4587a"/></g>
<g transform="translate(1876,279) rotate(5)"><path d="M-6,-5 L-3,-7 L-1,-3 L2,-7 L6,-5 L6,5 C3,7 -3,7 -6,5 Z" fill="#f0a4a4" stroke="#d88488" stroke-width="0.8"/><circle r="2" fill="#c4587a"/></g>
<g transform="translate(1890,281) rotate(10)"><path d="M-6,-5 L-3,-7 L-1,-3 L2,-7 L6,-5 L6,5 C3,7 -3,7 -6,5 Z" fill="#f0a4a4" stroke="#d88488" stroke-width="0.8"/><circle r="2" fill="#c4587a"/></g>
<g transform="translate(1904,286) rotate(20)"><path d="M-6,-5 L-3,-7 L-1,-3 L2,-7 L6,-5 L6,5 C3,7 -3,7 -6,5 Z" fill="#f0a4a4" stroke="#d88488" stroke-width="0.8"/><circle r="2" fill="#c4587a"/></g>
<g transform="translate(1916,292) rotate(25)"><path d="M-6,-5 L-3,-7 L-1,-3 L2,-7 L6,-5 L6,5 C3,7 -3,7 -6,5 Z" fill="#f0a4a4" stroke="#d88488" stroke-width="0.8"/><circle r="2" fill="#c4587a"/></g>
<circle cx="1420" cy="186" r="3" fill="#b8505c" opacity="0.7"/>
<circle cx="1440" cy="184" r="2.5" fill="#b8505c" opacity="0.7"/>
<circle cx="1458" cy="182" r="3" fill="#b8505c" opacity="0.7"/>
<circle cx="1470" cy="188" r="2" fill="#b8505c" opacity="0.7"/>
<circle cx="1428" cy="196" r="2" fill="#b8505c" opacity="0.7"/>
<circle cx="1450" cy="192" r="2" fill="#b8505c" opacity="0.7"/>
<circle cx="1495" cy="210" r="3" fill="#b8505c" opacity="0.7"/>
<circle cx="1505" cy="220" r="2.5" fill="#b8505c" opacity="0.7"/>
<circle cx="1515" cy="205" r="2" fill="#b8505c" opacity="0.7"/>
<circle cx="1560" cy="232" r="4" fill="#b8505c" opacity="0.7"/>
<circle cx="1600" cy="220" r="3" fill="#b8505c" opacity="0.7"/>
<circle cx="1630" cy="220" r="4" fill="#b8505c" opacity="0.7"/>
<circle cx="1660" cy="215" r="3" fill="#b8505c" opacity="0.7"/>
<circle cx="1700" cy="232" r="5" fill="#b8505c" opacity="0.7"/>
<circle cx="1720" cy="222" r="3" fill="#b8505c" opacity="0.7"/>
<circle cx="1750" cy="240" r="4" fill="#b8505c" opacity="0.7"/>
<circle cx="1790" cy="255" r="5" fill="#b8505c" opacity="0.7"/>
<circle cx="1815" cy="262" r="4" fill="#b8505c" opacity="0.7"/>
<circle cx="1840" cy="268" r="6" fill="#b8505c" opacity="0.7"/>
<circle cx="1880" cy="250" r="4" fill="#b8505c" opacity="0.7"/>
<circle cx="1905" cy="262" r="4" fill="#b8505c" opacity="0.7"/>
<circle cx="1925" cy="250" r="3" fill="#b8505c" opacity="0.7"/>
<circle cx="1550" cy="262" r="3" fill="#b8505c" opacity="0.7"/>
<circle cx="1575" cy="272" r="4" fill="#b8505c" opacity="0.7"/>
<circle cx="1660" cy="285" r="4" fill="#b8505c" opacity="0.7"/>
<circle cx="1690" cy="272" r="3" fill="#b8505c" opacity="0.7"/>
<circle cx="1770" cy="280" r="4" fill="#b8505c" opacity="0.7"/>
<circle cx="1800" cy="275" r="5" fill="#b8505c" opacity="0.7"/>
<circle cx="1830" cy="280" r="3" fill="#b8505c" opacity="0.7"/>
<circle cx="1860" cy="265" r="4" fill="#b8505c" opacity="0.7"/>
</g>
<defs>
<linearGradient id="villback" x1="0" y1="0" x2="1" y2="0">
<stop offset="0" stop-color="#c25f66"/>
<stop offset="0.3" stop-color="#e1918f"/>
<stop offset="0.6" stop-color="#d9807f"/>
<stop offset="1" stop-color="#b9555e"/>
</linearGradient>
<linearGradient id="villshell" x1="0" y1="0" x2="1" y2="0">
<stop offset="0" stop-color="#c86670"/>
<stop offset="0.2" stop-color="#dd8a8b"/>
<stop offset="0.8" stop-color="#d98385"/>
<stop offset="1" stop-color="#c0606a"/>
</linearGradient>
<linearGradient id="villmid" x1="0" y1="0" x2="0" y2="1">
<stop offset="0" stop-color="#e49898"/>
<stop offset="0.5" stop-color="#cf7d84"/>
<stop offset="1" stop-color="#8e3a55"/>
</linearGradient>
<linearGradient id="villmidh" x1="0" y1="0" x2="1" y2="0">
<stop offset="0" stop-color="#b6566a" stop-opacity="0.9"/>
<stop offset="0.25" stop-color="#e8a0a2" stop-opacity="0.0"/>
<stop offset="0.75" stop-color="#e8a0a2" stop-opacity="0.0"/>
<stop offset="1" stop-color="#b6566a" stop-opacity="0.9"/>
</linearGradient>
<radialGradient id="cellg" cx="0.45" cy="0.4" r="0.6">
<stop offset="0" stop-color="#f8bcb8"/>
<stop offset="1" stop-color="#ec9896"/>
</radialGradient>
<linearGradient id="curvarr" x1="0" y1="0" x2="0" y2="1">
<stop offset="0" stop-color="#cfcccc" stop-opacity="0.3"/>
<stop offset="1" stop-color="#3b3838"/>
</linearGradient>
</defs>
<g id="normal">
<ellipse cx="1706" cy="968" rx="120" ry="9" fill="#a77ea8" filter="url(#blur6)" opacity="0.55"/>
<path d="M1635.0,935 L1635.0,718.5 C1635.0,684.75 1685.0,684.75 1685.0,718.5 L1685.0,935 Z" fill="url(#villback)"/>
<path d="M1718.0,935 L1718.0,718.5 C1718.0,684.75 1768.0,684.75 1768.0,718.5 L1768.0,935 Z" fill="url(#villback)"/>
<path d="M1588.0,935 L1588.0,711.3 C1588.0,666.75 1654.0,666.75 1654.0,711.3 L1654.0,935 Z" fill="url(#villback)"/>
<path d="M1673.0,935 L1673.0,708.0 C1673.0,667.5 1733.0,667.5 1733.0,708.0 L1733.0,935 Z" fill="url(#villback)"/>
<path d="M1755.0,935 L1755.0,712.4 C1755.0,666.5 1823.0,666.5 1823.0,712.4 L1823.0,935 Z" fill="url(#villback)"/>
<ellipse cx="1621" cy="689" rx="20" ry="8" fill="#eeb0ae" opacity="0.55" filter="url(#blur2)"/>
<ellipse cx="1703" cy="689" rx="20" ry="8" fill="#eeb0ae" opacity="0.55" filter="url(#blur2)"/>
<ellipse cx="1789" cy="689" rx="20" ry="8" fill="#eeb0ae" opacity="0.55" filter="url(#blur2)"/>
<path d="M1678.0,935 L1678.0,735.7 C1678.0,699.25 1732.0,699.25 1732.0,735.7 L1732.0,935 Z" fill="url(#villmid)"/>
<path d="M1678.0,935 L1678.0,735.7 C1678.0,699.25 1732.0,699.25 1732.0,735.7 L1732.0,935 Z" fill="url(#villmidh)"/>
<path d="M1590.0,935 L1590.0,756.7 C1590.0,693.25 1684.0,693.25 1684.0,756.7 L1684.0,935 Z" fill="url(#villshell)"/>
<path d="M1724.0,935 L1724.0,756.7 C1724.0,693.25 1818.0,693.25 1818.0,756.7 L1818.0,935 Z" fill="url(#villshell)"/>
<path d="M1620.5,935 L1620.5,746.2 C1620.5,716.5 1664.5,716.5 1664.5,746.2 L1664.5,935 Z" fill="#f3d6ab"/>
<path d="M1743.5,935 L1743.5,746.2 C1743.5,716.5 1787.5,716.5 1787.5,746.2 L1787.5,935 Z" fill="#f3d6ab"/>
<rect x="1588" y="912" width="234" height="47" fill="#f3d6ab"/>
<path d="M1630,932 L1630,760 C1630,738 1651,738 1651,760 L1651,905 C1651,918 1661,926 1691,928" fill="none" stroke="#d11616" stroke-width="3.2"/><path d="M1636,905 L1636,762 C1636,744 1653,744 1653,762 L1653,890 C1653,912 1681,922 1711,926" fill="none" stroke="#3f86c8" stroke-width="2.6"/><path d="M1641,768 C1638,800 1639,850 1641,900 C1642,925 1633,940 1611,947" fill="none" stroke="#1d9a2a" stroke-width="3.2"/><path d="M1641,900 C1646,920 1656,935 1666,948" fill="none" stroke="#1d9a2a" stroke-width="3"/><path d="M1630,775 C1638,771 1645,781 1653,773" fill="none" stroke="#5a6aa8" stroke-width="1.3" opacity="0.9"/><path d="M1630,791 C1638,787 1645,797 1653,789" fill="none" stroke="#5a6aa8" stroke-width="1.3" opacity="0.9"/><path d="M1630,807 C1638,803 1645,813 1653,805" fill="none" stroke="#5a6aa8" stroke-width="1.3" opacity="0.9"/><path d="M1630,823 C1638,819 1645,829 1653,821" fill="none" stroke="#5a6aa8" stroke-width="1.3" opacity="0.9"/><path d="M1630,839 C1638,835 1645,845 1653,837" fill="none" stroke="#5a6aa8" stroke-width="1.3" opacity="0.9"/><path d="M1630,855 C1638,851 1645,861 1653,853" fill="none" stroke="#5a6aa8" stroke-width="1.3" opacity="0.9"/><path d="M1630,871 C1638,867 1645,877 1653,869" fill="none" stroke="#5a6aa8" stroke-width="1.3" opacity="0.9"/><path d="M1630,887 C1638,883 1645,893 1653,885" fill="none" stroke="#5a6aa8" stroke-width="1.3" opacity="0.9"/>
<path d="M1778,932 L1778,760 C1778,738 1757,738 1757,760 L1757,905 C1757,918 1747,926 1717,928" fill="none" stroke="#d11616" stroke-width="3.2"/><path d="M1772,905 L1772,762 C1772,744 1755,744 1755,762 L1755,890 C1755,912 1727,922 1697,926" fill="none" stroke="#3f86c8" stroke-width="2.6"/><path d="M1767,768 C1770,800 1769,850 1767,900 C1766,925 1775,940 1797,947" fill="none" stroke="#1d9a2a" stroke-width="3.2"/><path d="M1767,900 C1762,920 1752,935 1742,948" fill="none" stroke="#1d9a2a" stroke-width="3"/><path d="M1778,775 C1770,771 1763,781 1755,773" fill="none" stroke="#5a6aa8" stroke-width="1.3" opacity="0.9"/><path d="M1778,791 C1770,787 1763,797 1755,789" fill="none" stroke="#5a6aa8" stroke-width="1.3" opacity="0.9"/><path d="M1778,807 C1770,803 1763,813 1755,805" fill="none" stroke="#5a6aa8" stroke-width="1.3" opacity="0.9"/><path d="M1778,823 C1770,819 1763,829 1755,821" fill="none" stroke="#5a6aa8" stroke-width="1.3" opacity="0.9"/><path d="M1778,839 C1770,835 1763,845 1755,837" fill="none" stroke="#5a6aa8" stroke-width="1.3" opacity="0.9"/><path d="M1778,855 C1770,851 1763,861 1755,853" fill="none" stroke="#5a6aa8" stroke-width="1.3" opacity="0.9"/><path d="M1778,871 C1770,867 1763,877 1755,869" fill="none" stroke="#5a6aa8" stroke-width="1.3" opacity="0.9"/><path d="M1778,887 C1770,883 1763,893 1755,885" fill="none" stroke="#5a6aa8" stroke-width="1.3" opacity="0.9"/>
<path d="M1588,930 C1610,928 1630,934 1650,932 C1675,929 1690,936 1705,934 C1725,930 1745,926 1770,930 C1790,934 1805,928 1822,926" fill="none" stroke="#d11616" stroke-width="3.2"/>
<path d="M1588,946 C1610,944 1630,948 1655,946 C1680,942 1700,948 1720,946 C1745,944 1770,950 1795,946 C1805,944 1815,946 1822,947" fill="none" stroke="#1d9a2a" stroke-width="3.4"/>
<path d="M1588,956 C1610,955 1630,956 1650,953 C1670,950 1690,956 1705,952 C1720,948 1740,956 1760,955 C1785,954 1805,956 1822,955" fill="none" stroke="#3f86c8" stroke-width="3"/>
<g transform="translate(1613.0,906.0) rotate(0.0)"><rect x="-10.5" y="-6.8" width="21.0" height="13.6" rx="4.5" fill="url(#cellg)" stroke="#de8a8c" stroke-width="0.9"/><circle r="2.8" fill="#e58fa0" stroke="#c4587a" stroke-width="1.2"/></g><g transform="translate(1613.0,892.7) rotate(0.0)"><rect x="-10.5" y="-6.8" width="21.0" height="13.6" rx="4.5" fill="url(#cellg)" stroke="#de8a8c" stroke-width="0.9"/><circle r="2.8" fill="#e58fa0" stroke="#c4587a" stroke-width="1.2"/></g><g transform="translate(1613.0,879.5) rotate(0.0)"><rect x="-10.5" y="-6.8" width="21.0" height="13.6" rx="4.5" fill="url(#cellg)" stroke="#de8a8c" stroke-width="0.9"/><circle r="2.8" fill="#e58fa0" stroke="#c4587a" stroke-width="1.2"/></g><g transform="translate(1613.0,866.2) rotate(0.0)"><rect x="-10.5" y="-6.8" width="21.0" height="13.6" rx="4.5" fill="url(#cellg)" stroke="#de8a8c" stroke-width="0.9"/><circle r="2.8" fill="#e58fa0" stroke="#c4587a" stroke-width="1.2"/></g><g transform="translate(1613.0,852.9) rotate(0.0)"><rect x="-10.5" y="-6.8" width="21.0" height="13.6" rx="4.5" fill="url(#cellg)" stroke="#de8a8c" stroke-width="0.9"/><circle r="2.8" fill="#e58fa0" stroke="#c4587a" stroke-width="1.2"/></g><g transform="translate(1613.0,839.6) rotate(0.0)"><rect x="-10.5" y="-6.8" width="21.0" height="13.6" rx="4.5" fill="url(#cellg)" stroke="#de8a8c" stroke-width="0.9"/><circle r="2.8" fill="#e58fa0" stroke="#c4587a" stroke-width="1.2"/></g><g transform="translate(1613.0,826.4) rotate(0.0)"><rect x="-10.5" y="-6.8" width="21.0" height="13.6" rx="4.5" fill="url(#cellg)" stroke="#de8a8c" stroke-width="0.9"/><circle r="2.8" fill="#e58fa0" stroke="#c4587a" stroke-width="1.2"/></g><g transform="translate(1613.0,813.1) rotate(0.0)"><rect x="-10.5" y="-6.8" width="21.0" height="13.6" rx="4.5" fill="url(#cellg)" stroke="#de8a8c" stroke-width="0.9"/><circle r="2.8" fill="#e58fa0" stroke="#c4587a" stroke-width="1.2"/></g><g transform="translate(1613.0,799.8) rotate(0.0)"><rect x="-10.5" y="-6.8" width="21.0" height="13.6" rx="4.5" fill="url(#cellg)" stroke="#de8a8c" stroke-width="0.9"/><circle r="2.8" fill="#e58fa0" stroke="#c4587a" stroke-width="1.2"/></g><g transform="translate(1613.0,786.5) rotate(0.0)"><rect x="-10.5" y="-6.8" width="21.0" height="13.6" rx="4.5" fill="url(#cellg)" stroke="#de8a8c" stroke-width="0.9"/><circle r="2.8" fill="#e58fa0" stroke="#c4587a" stroke-width="1.2"/></g><g transform="translate(1613.0,773.3) rotate(0.0)"><rect x="-10.5" y="-6.8" width="21.0" height="13.6" rx="4.5" fill="url(#cellg)" stroke="#de8a8c" stroke-width="0.9"/><circle r="2.8" fill="#e58fa0" stroke="#c4587a" stroke-width="1.2"/></g><g transform="translate(1613.0,760.0) rotate(0.0)"><rect x="-10.5" y="-6.8" width="21.0" height="13.6" rx="4.5" fill="url(#cellg)" stroke="#de8a8c" stroke-width="0.9"/><circle r="2.8" fill="#e58fa0" stroke="#c4587a" stroke-width="1.2"/></g><g transform="translate(1614.0,748.4) rotate(285.0)"><rect x="-10.5" y="-6.8" width="21.0" height="13.6" rx="4.5" fill="url(#cellg)" stroke="#de8a8c" stroke-width="0.9"/><circle r="2.8" fill="#e58fa0" stroke="#c4587a" stroke-width="1.2"/></g><g transform="translate(1624.5,732.6) rotate(322.5)"><rect x="-10.5" y="-6.8" width="21.0" height="13.6" rx="4.5" fill="url(#cellg)" stroke="#de8a8c" stroke-width="0.9"/><circle r="2.8" fill="#e58fa0" stroke="#c4587a" stroke-width="1.2"/></g><g transform="translate(1642.5,726.5) rotate(360.0)"><rect x="-10.5" y="-6.8" width="21.0" height="13.6" rx="4.5" fill="url(#cellg)" stroke="#de8a8c" stroke-width="0.9"/><circle r="2.8" fill="#e58fa0" stroke="#c4587a" stroke-width="1.2"/></g><g transform="translate(1660.5,732.6) rotate(397.5)"><rect x="-10.5" y="-6.8" width="21.0" height="13.6" rx="4.5" fill="url(#cellg)" stroke="#de8a8c" stroke-width="0.9"/><circle r="2.8" fill="#e58fa0" stroke="#c4587a" stroke-width="1.2"/></g><g transform="translate(1671.0,748.4) rotate(435.0)"><rect x="-10.5" y="-6.8" width="21.0" height="13.6" rx="4.5" fill="url(#cellg)" stroke="#de8a8c" stroke-width="0.9"/><circle r="2.8" fill="#e58fa0" stroke="#c4587a" stroke-width="1.2"/></g><g transform="translate(1672.0,760.0) rotate(0.0)"><rect x="-10.5" y="-6.8" width="21.0" height="13.6" rx="4.5" fill="url(#cellg)" stroke="#de8a8c" stroke-width="0.9"/><circle r="2.8" fill="#e58fa0" stroke="#c4587a" stroke-width="1.2"/></g><g transform="translate(1672.0,774.0) rotate(0.0)"><rect x="-10.5" y="-6.8" width="21.0" height="13.6" rx="4.5" fill="url(#cellg)" stroke="#de8a8c" stroke-width="0.9"/><circle r="2.8" fill="#e58fa0" stroke="#c4587a" stroke-width="1.2"/></g><g transform="translate(1672.0,788.0) rotate(0.0)"><rect x="-10.5" y="-6.8" width="21.0" height="13.6" rx="4.5" fill="url(#cellg)" stroke="#de8a8c" stroke-width="0.9"/><circle r="2.8" fill="#e58fa0" stroke="#c4587a" stroke-width="1.2"/></g><g transform="translate(1672.0,802.0) rotate(0.0)"><rect x="-10.5" y="-6.8" width="21.0" height="13.6" rx="4.5" fill="url(#cellg)" stroke="#de8a8c" stroke-width="0.9"/><circle r="2.8" fill="#e58fa0" stroke="#c4587a" stroke-width="1.2"/></g><g transform="translate(1672.0,816.0) rotate(0.0)"><rect x="-10.5" y="-6.8" width="21.0" height="13.6" rx="4.5" fill="url(#cellg)" stroke="#de8a8c" stroke-width="0.9"/><circle r="2.8" fill="#e58fa0" stroke="#c4587a" stroke-width="1.2"/></g><g transform="translate(1672.0,830.0) rotate(0.0)"><rect x="-10.5" y="-6.8" width="21.0" height="13.6" rx="4.5" fill="url(#cellg)" stroke="#de8a8c" stroke-width="0.9"/><circle r="2.8" fill="#e58fa0" stroke="#c4587a" stroke-width="1.2"/></g><g transform="translate(1672.0,844.0) rotate(0.0)"><rect x="-10.5" y="-6.8" width="21.0" height="13.6" rx="4.5" fill="url(#cellg)" stroke="#de8a8c" stroke-width="0.9"/><circle r="2.8" fill="#e58fa0" stroke="#c4587a" stroke-width="1.2"/></g><g transform="translate(1672.0,858.0) rotate(0.0)"><rect x="-10.5" y="-6.8" width="21.0" height="13.6" rx="4.5" fill="url(#cellg)" stroke="#de8a8c" stroke-width="0.9"/><circle r="2.8" fill="#e58fa0" stroke="#c4587a" stroke-width="1.2"/></g><g transform="translate(1672.0,872.0) rotate(0.0)"><rect x="-10.5" y="-6.8" width="21.0" height="13.6" rx="4.5" fill="url(#cellg)" stroke="#de8a8c" stroke-width="0.9"/><circle r="2.8" fill="#e58fa0" stroke="#c4587a" stroke-width="1.2"/></g><g transform="translate(1672.0,886.0) rotate(0.0)"><rect x="-10.5" y="-6.8" width="21.0" height="13.6" rx="4.5" fill="url(#cellg)" stroke="#de8a8c" stroke-width="0.9"/><circle r="2.8" fill="#e58fa0" stroke="#c4587a" stroke-width="1.2"/></g><g transform="translate(1672.0,900.0) rotate(0.0)"><rect x="-10.5" y="-6.8" width="21.0" height="13.6" rx="4.5" fill="url(#cellg)" stroke="#de8a8c" stroke-width="0.9"/><circle r="2.8" fill="#e58fa0" stroke="#c4587a" stroke-width="1.2"/></g><g transform="translate(1681.0,913.0) rotate(-35.0)"><rect x="-10.5" y="-6.8" width="21.0" height="13.6" rx="4.5" fill="url(#cellg)" stroke="#de8a8c" stroke-width="0.9"/><circle r="2.8" fill="#e58fa0" stroke="#c4587a" stroke-width="1.2"/></g><g transform="translate(1693.0,920.0) rotate(-15.0)"><rect x="-10.5" y="-6.8" width="21.0" height="13.6" rx="4.5" fill="url(#cellg)" stroke="#de8a8c" stroke-width="0.9"/><circle r="2.8" fill="#e58fa0" stroke="#c4587a" stroke-width="1.2"/></g><g transform="translate(1706.0,922.0) rotate(0.0)"><rect x="-10.5" y="-6.8" width="21.0" height="13.6" rx="4.5" fill="url(#cellg)" stroke="#de8a8c" stroke-width="0.9"/><circle r="2.8" fill="#e58fa0" stroke="#c4587a" stroke-width="1.2"/></g><g transform="translate(1719.0,920.0) rotate(15.0)"><rect x="-10.5" y="-6.8" width="21.0" height="13.6" rx="4.5" fill="url(#cellg)" stroke="#de8a8c" stroke-width="0.9"/><circle r="2.8" fill="#e58fa0" stroke="#c4587a" stroke-width="1.2"/></g><g transform="translate(1731.0,913.0) rotate(35.0)"><rect x="-10.5" y="-6.8" width="21.0" height="13.6" rx="4.5" fill="url(#cellg)" stroke="#de8a8c" stroke-width="0.9"/><circle r="2.8" fill="#e58fa0" stroke="#c4587a" stroke-width="1.2"/></g><g transform="translate(1736.0,900.0) rotate(0.0)"><rect x="-10.5" y="-6.8" width="21.0" height="13.6" rx="4.5" fill="url(#cellg)" stroke="#de8a8c" stroke-width="0.9"/><circle r="2.8" fill="#e58fa0" stroke="#c4587a" stroke-width="1.2"/></g><g transform="translate(1736.0,886.0) rotate(0.0)"><rect x="-10.5" y="-6.8" width="21.0" height="13.6" rx="4.5" fill="url(#cellg)" stroke="#de8a8c" stroke-width="0.9"/><circle r="2.8" fill="#e58fa0" stroke="#c4587a" stroke-width="1.2"/></g><g transform="translate(1736.0,872.0) rotate(0.0)"><rect x="-10.5" y="-6.8" width="21.0" height="13.6" rx="4.5" fill="url(#cellg)" stroke="#de8a8c" stroke-width="0.9"/><circle r="2.8" fill="#e58fa0" stroke="#c4587a" stroke-width="1.2"/></g><g transform="translate(1736.0,858.0) rotate(0.0)"><rect x="-10.5" y="-6.8" width="21.0" height="13.6" rx="4.5" fill="url(#cellg)" stroke="#de8a8c" stroke-width="0.9"/><circle r="2.8" fill="#e58fa0" stroke="#c4587a" stroke-width="1.2"/></g><g transform="translate(1736.0,844.0) rotate(0.0)"><rect x="-10.5" y="-6.8" width="21.0" height="13.6" rx="4.5" fill="url(#cellg)" stroke="#de8a8c" stroke-width="0.9"/><circle r="2.8" fill="#e58fa0" stroke="#c4587a" stroke-width="1.2"/></g><g transform="translate(1736.0,830.0) rotate(0.0)"><rect x="-10.5" y="-6.8" width="21.0" height="13.6" rx="4.5" fill="url(#cellg)" stroke="#de8a8c" stroke-width="0.9"/><circle r="2.8" fill="#e58fa0" stroke="#c4587a" stroke-width="1.2"/></g><g transform="translate(1736.0,816.0) rotate(0.0)"><rect x="-10.5" y="-6.8" width="21.0" height="13.6" rx="4.5" fill="url(#cellg)" stroke="#de8a8c" stroke-width="0.9"/><circle r="2.8" fill="#e58fa0" stroke="#c4587a" stroke-width="1.2"/></g><g transform="translate(1736.0,802.0) rotate(0.0)"><rect x="-10.5" y="-6.8" width="21.0" height="13.6" rx="4.5" fill="url(#cellg)" stroke="#de8a8c" stroke-width="0.9"/><circle r="2.8" fill="#e58fa0" stroke="#c4587a" stroke-width="1.2"/></g><g transform="translate(1736.0,788.0) rotate(0.0)"><rect x="-10.5" y="-6.8" width="21.0" height="13.6" rx="4.5" fill="url(#cellg)" stroke="#de8a8c" stroke-width="0.9"/><circle r="2.8" fill="#e58fa0" stroke="#c4587a" stroke-width="1.2"/></g><g transform="translate(1736.0,774.0) rotate(0.0)"><rect x="-10.5" y="-6.8" width="21.0" height="13.6" rx="4.5" fill="url(#cellg)" stroke="#de8a8c" stroke-width="0.9"/><circle r="2.8" fill="#e58fa0" stroke="#c4587a" stroke-width="1.2"/></g><g transform="translate(1736.0,760.0) rotate(0.0)"><rect x="-10.5" y="-6.8" width="21.0" height="13.6" rx="4.5" fill="url(#cellg)" stroke="#de8a8c" stroke-width="0.9"/><circle r="2.8" fill="#e58fa0" stroke="#c4587a" stroke-width="1.2"/></g><g transform="translate(1737.0,748.4) rotate(285.0)"><rect x="-10.5" y="-6.8" width="21.0" height="13.6" rx="4.5" fill="url(#cellg)" stroke="#de8a8c" stroke-width="0.9"/><circle r="2.8" fill="#e58fa0" stroke="#c4587a" stroke-width="1.2"/></g><g transform="translate(1747.5,732.6) rotate(322.5)"><rect x="-10.5" y="-6.8" width="21.0" height="13.6" rx="4.5" fill="url(#cellg)" stroke="#de8a8c" stroke-width="0.9"/><circle r="2.8" fill="#e58fa0" stroke="#c4587a" stroke-width="1.2"/></g><g transform="translate(1765.5,726.5) rotate(360.0)"><rect x="-10.5" y="-6.8" width="21.0" height="13.6" rx="4.5" fill="url(#cellg)" stroke="#de8a8c" stroke-width="0.9"/><circle r="2.8" fill="#e58fa0" stroke="#c4587a" stroke-width="1.2"/></g><g transform="translate(1783.5,732.6) rotate(397.5)"><rect x="-10.5" y="-6.8" width="21.0" height="13.6" rx="4.5" fill="url(#cellg)" stroke="#de8a8c" stroke-width="0.9"/><circle r="2.8" fill="#e58fa0" stroke="#c4587a" stroke-width="1.2"/></g><g transform="translate(1794.0,748.4) rotate(435.0)"><rect x="-10.5" y="-6.8" width="21.0" height="13.6" rx="4.5" fill="url(#cellg)" stroke="#de8a8c" stroke-width="0.9"/><circle r="2.8" fill="#e58fa0" stroke="#c4587a" stroke-width="1.2"/></g><g transform="translate(1795.0,760.0) rotate(0.0)"><rect x="-10.5" y="-6.8" width="21.0" height="13.6" rx="4.5" fill="url(#cellg)" stroke="#de8a8c" stroke-width="0.9"/><circle r="2.8" fill="#e58fa0" stroke="#c4587a" stroke-width="1.2"/></g><g transform="translate(1795.0,773.3) rotate(0.0)"><rect x="-10.5" y="-6.8" width="21.0" height="13.6" rx="4.5" fill="url(#cellg)" stroke="#de8a8c" stroke-width="0.9"/><circle r="2.8" fill="#e58fa0" stroke="#c4587a" stroke-width="1.2"/></g><g transform="translate(1795.0,786.5) rotate(0.0)"><rect x="-10.5" y="-6.8" width="21.0" height="13.6" rx="4.5" fill="url(#cellg)" stroke="#de8a8c" stroke-width="0.9"/><circle r="2.8" fill="#e58fa0" stroke="#c4587a" stroke-width="1.2"/></g><g transform="translate(1795.0,799.8) rotate(0.0)"><rect x="-10.5" y="-6.8" width="21.0" height="13.6" rx="4.5" fill="url(#cellg)" stroke="#de8a8c" stroke-width="0.9"/><circle r="2.8" fill="#e58fa0" stroke="#c4587a" stroke-width="1.2"/></g><g transform="translate(1795.0,813.1) rotate(0.0)"><rect x="-10.5" y="-6.8" width="21.0" height="13.6" rx="4.5" fill="url(#cellg)" stroke="#de8a8c" stroke-width="0.9"/><circle r="2.8" fill="#e58fa0" stroke="#c4587a" stroke-width="1.2"/></g><g transform="translate(1795.0,826.4) rotate(0.0)"><rect x="-10.5" y="-6.8" width="21.0" height="13.6" rx="4.5" fill="url(#cellg)" stroke="#de8a8c" stroke-width="0.9"/><circle r="2.8" fill="#e58fa0" stroke="#c4587a" stroke-width="1.2"/></g><g transform="translate(1795.0,839.6) rotate(0.0)"><rect x="-10.5" y="-6.8" width="21.0" height="13.6" rx="4.5" fill="url(#cellg)" stroke="#de8a8c" stroke-width="0.9"/><circle r="2.8" fill="#e58fa0" stroke="#c4587a" stroke-width="1.2"/></g><g transform="translate(1795.0,852.9) rotate(0.0)"><rect x="-10.5" y="-6.8" width="21.0" height="13.6" rx="4.5" fill="url(#cellg)" stroke="#de8a8c" stroke-width="0.9"/><circle r="2.8" fill="#e58fa0" stroke="#c4587a" stroke-width="1.2"/></g><g transform="translate(1795.0,866.2) rotate(0.0)"><rect x="-10.5" y="-6.8" width="21.0" height="13.6" rx="4.5" fill="url(#cellg)" stroke="#de8a8c" stroke-width="0.9"/><circle r="2.8" fill="#e58fa0" stroke="#c4587a" stroke-width="1.2"/></g><g transform="translate(1795.0,879.5) rotate(0.0)"><rect x="-10.5" y="-6.8" width="21.0" height="13.6" rx="4.5" fill="url(#cellg)" stroke="#de8a8c" stroke-width="0.9"/><circle r="2.8" fill="#e58fa0" stroke="#c4587a" stroke-width="1.2"/></g><g transform="translate(1795.0,892.7) rotate(0.0)"><rect x="-10.5" y="-6.8" width="21.0" height="13.6" rx="4.5" fill="url(#cellg)" stroke="#de8a8c" stroke-width="0.9"/><circle r="2.8" fill="#e58fa0" stroke="#c4587a" stroke-width="1.2"/></g><g transform="translate(1795.0,906.0) rotate(0.0)"><rect x="-10.5" y="-6.8" width="21.0" height="13.6" rx="4.5" fill="url(#cellg)" stroke="#de8a8c" stroke-width="0.9"/><circle r="2.8" fill="#e58fa0" stroke="#c4587a" stroke-width="1.2"/></g><g transform="translate(1604.0,917.0) rotate(-30.0)"><rect x="-10.5" y="-6.8" width="21.0" height="13.6" rx="4.5" fill="url(#cellg)" stroke="#de8a8c" stroke-width="0.9"/><circle r="2.8" fill="#e58fa0" stroke="#c4587a" stroke-width="1.2"/></g><g transform="translate(1592.0,925.0) rotate(-30.0)"><rect x="-10.5" y="-6.8" width="21.0" height="13.6" rx="4.5" fill="url(#cellg)" stroke="#de8a8c" stroke-width="0.9"/><circle r="2.8" fill="#e58fa0" stroke="#c4587a" stroke-width="1.2"/></g><g transform="translate(1804.0,917.0) rotate(30.0)"><rect x="-10.5" y="-6.8" width="21.0" height="13.6" rx="4.5" fill="url(#cellg)" stroke="#de8a8c" stroke-width="0.9"/><circle r="2.8" fill="#e58fa0" stroke="#c4587a" stroke-width="1.2"/></g><g transform="translate(1816.0,925.0) rotate(30.0)"><rect x="-10.5" y="-6.8" width="21.0" height="13.6" rx="4.5" fill="url(#cellg)" stroke="#de8a8c" stroke-width="0.9"/><circle r="2.8" fill="#e58fa0" stroke="#c4587a" stroke-width="1.2"/></g>
<path d="M1705,682 L1705,885" stroke="#3b2a30" stroke-width="2.2" opacity="0.85"/>
<path d="M1705,692 L1705,780" stroke="#ffffff" stroke-width="6" opacity="0.25"/>
<path d="M1695,762 L1705,784 L1715,762 L1705,775 Z" fill="#2e2226"/>
<path d="M1695,866 L1705,888 L1715,866 L1705,879 Z" fill="#2e2226"/>
<path d="M1632,616 C1665,616 1695,640 1705,682" fill="none" stroke="url(#curvarr)" stroke-width="3.4" stroke-linecap="round"/>
<path d="M1779,616 C1745,618 1715,640 1705,682" fill="none" stroke="url(#curvarr)" stroke-width="3.4" stroke-linecap="round"/>
<path d="M1695,655 L1705,690 L1715,655 L1705,676 Z" fill="#3b3838"/>
</g>
<g id="labels">
<text x="245.86" y="279.20" font-size="11.41" fill="#111" stroke="#111" stroke-width="0.2" textLength="72.77" lengthAdjust="spacingAndGlyphs">ESOPHAGUS</text>
<text x="265.39" y="349.10" font-size="11.63" fill="#111" stroke="#111" stroke-width="0.2" textLength="53.22" lengthAdjust="spacingAndGlyphs">PYLORUS</text>
<text x="383.56" y="361.10" font-size="11.19" fill="#111" stroke="#111" stroke-width="0.2" textLength="59.00" lengthAdjust="spacingAndGlyphs">STOMACH</text>
<text x="167.82" y="411.90" font-size="11.34" fill="#111" stroke="#111" stroke-width="0.2" textLength="70.26" lengthAdjust="spacingAndGlyphs">DUODENUM</text>
<text x="273.16" y="488.40" font-size="11.34" fill="#111" stroke="#111" stroke-width="0.2" textLength="115.73" lengthAdjust="spacingAndGlyphs">TRANSVERSE COLON</text>
<text x="333.42" y="534.60" font-size="10.32" fill="#111" stroke="#111" stroke-width="0.2" textLength="53.13" lengthAdjust="spacingAndGlyphs">JEJENUM</text>
<text x="283.01" y="609.20" font-size="10.90" fill="#111" stroke="#111" stroke-width="0.2" textLength="35.95" lengthAdjust="spacingAndGlyphs">ILEUM</text>
<text x="11.48" y="542.90" font-size="11.05" fill="#111" stroke="#111" stroke-width="0.2" textLength="110.75" lengthAdjust="spacingAndGlyphs">ASCENDING COLON</text>
<text x="536.57" y="529.30" font-size="11.48" fill="#111" stroke="#111" stroke-width="0.2" textLength="119.05" lengthAdjust="spacingAndGlyphs">DESCENDING COLON</text>
<text x="81.53" y="663.70" font-size="11.05" fill="#111" stroke="#111" stroke-width="0.2" textLength="41.19" lengthAdjust="spacingAndGlyphs">CECUM</text>
<text x="536.98" y="684.70" font-size="11.63" fill="#111" stroke="#111" stroke-width="0.2" textLength="92.74" lengthAdjust="spacingAndGlyphs">SIGMOID COLON</text>
<text x="264.42" y="709.40" font-size="10.61" fill="#111" stroke="#111" stroke-width="0.2" textLength="46.07" lengthAdjust="spacingAndGlyphs">RECTUM</text>
<text x="84.05" y="729.65" font-size="11.26" fill="#111" stroke="#111" stroke-width="0.2" textLength="123.77" lengthAdjust="spacingAndGlyphs">VERMIFORM APPENDIX</text>
<text x="398.48" y="764.10" font-size="12.06" fill="#111" stroke="#111" stroke-width="0.2" textLength="71.10" lengthAdjust="spacingAndGlyphs">ANAL CANAL</text>
<text x="920.46" y="440.20" font-size="9.45" fill="#111" stroke="#111" stroke-width="0.2" textLength="22.32" lengthAdjust="spacingAndGlyphs">VILLI</text>
<text x="876.01" y="616.10" font-size="9.74" fill="#111" stroke="#111" stroke-width="0.2" textLength="42.21" lengthAdjust="spacingAndGlyphs">MUCOSA</text>
<text x="866.67" y="642.00" font-size="9.01" fill="#111" stroke="#111" stroke-width="0.2" textLength="61.25" lengthAdjust="spacingAndGlyphs">SUBMUCOSA</text>
<text x="852.42" y="668.70" font-size="9.45" fill="#111" stroke="#111" stroke-width="0.2" textLength="91.09" lengthAdjust="spacingAndGlyphs">CIRCULAR MUSCLE</text>
<text x="840.00" y="696.20" font-size="8.87" fill="#111" stroke="#111" stroke-width="0.2" textLength="115.42" lengthAdjust="spacingAndGlyphs">LONGITUDINAL MUSCLE</text>
<text x="878.59" y="714.20" font-size="9.45" fill="#111" stroke="#111" stroke-width="0.2" textLength="37.63" lengthAdjust="spacingAndGlyphs">SEROSA</text>
<text x="1089.83" y="619.80" font-size="9.01" fill="#111" stroke="#111" stroke-width="0.2" textLength="35.66" lengthAdjust="spacingAndGlyphs">ARTERY</text>
<text x="1088.74" y="642.65" font-size="8.94" fill="#111" stroke="#111" stroke-width="0.2" textLength="91.97" lengthAdjust="spacingAndGlyphs">LYMPHATIC VESSEL</text>
<text x="1089.81" y="667.40" font-size="9.01" fill="#111" stroke="#111" stroke-width="0.2" textLength="22.37" lengthAdjust="spacingAndGlyphs">VEIN</text>
<text x="1404.07" y="172.60" font-size="9.16" fill="#111" stroke="#111" stroke-width="0.2" textLength="85.67" lengthAdjust="spacingAndGlyphs">FLATTENED VILLI</text>
<text x="1842.27" y="168.90" font-size="9.88" fill="#111" stroke="#111" stroke-width="0.2" textLength="51.11" lengthAdjust="spacingAndGlyphs">DAMAGED</text>
<text x="1842.28" y="183.30" font-size="9.88" fill="#111" stroke="#111" stroke-width="0.2" textLength="91.08" lengthAdjust="spacingAndGlyphs">EPITHELIAL CELLS</text>
<text x="1498.66" y="692.40" font-size="11.05" fill="#111" stroke="#111" stroke-width="0.2" textLength="23.16" lengthAdjust="spacingAndGlyphs">VILLI</text>
<text x="1497.89" y="738.60" font-size="10.90" fill="#111" stroke="#111" stroke-width="0.2" textLength="55.94" lengthAdjust="spacingAndGlyphs">EPITHELIAL</text>
<text x="1498.25" y="752.70" font-size="10.32" fill="#111" stroke="#111" stroke-width="0.2" textLength="21.94" lengthAdjust="spacingAndGlyphs">CELL</text>
<text x="1497.98" y="788.70" font-size="10.32" fill="#111" stroke="#111" stroke-width="0.2" textLength="39.22" lengthAdjust="spacingAndGlyphs">LACTEAL</text>
<text x="1496.61" y="821.30" font-size="10.47" fill="#111" stroke="#111" stroke-width="0.2" textLength="53.51" lengthAdjust="spacingAndGlyphs">CAPILLARY</text>
<text x="1496.30" y="835.40" font-size="10.32" fill="#111" stroke="#111" stroke-width="0.2" textLength="49.71" lengthAdjust="spacingAndGlyphs">NETWORK</text>
<text x="1498.68" y="927.80" font-size="10.32" fill="#111" stroke="#111" stroke-width="0.2" textLength="47.38" lengthAdjust="spacingAndGlyphs">ARTERIOLE</text>
<text x="1498.09" y="946.30" font-size="9.01" fill="#111" stroke="#111" stroke-width="0.2" textLength="73.66" lengthAdjust="spacingAndGlyphs">LYMPHATIC VESSEL</text>
<text x="1498.66" y="966.70" font-size="10.32" fill="#111" stroke="#111" stroke-width="0.2" textLength="34.31" lengthAdjust="spacingAndGlyphs">VENULE</text>
<path d="M321.2,275.75 L368.5,281.3" fill="none" stroke="#111" stroke-width="1.1"/>
<path d="M295.7,352.2 L337.7,397.2" fill="none" stroke="#111" stroke-width="1.1"/>
<path d="M239.5,408.5 L286.7,416" fill="none" stroke="#111" stroke-width="1.1"/>
<path d="M211.5,726.75 L255.7,689.25" fill="none" stroke="#111" stroke-width="1.1"/>
<path d="M138.4,451 L131.8,451 L131.8,625.2 L138.4,625.2" fill="none" stroke="#111" stroke-width="1.1"/>
<path d="M126.2,538.8 L131.8,538.8" fill="none" stroke="#111" stroke-width="1.1"/>
<path d="M138.4,639.8 L131.8,639.8 L131.8,687.6 L138.4,687.6" fill="none" stroke="#111" stroke-width="1.1"/>
<path d="M126.2,663.4 L131.8,663.4" fill="none" stroke="#111" stroke-width="1.1"/>
<path d="M518.2,419.5 L525,419.5 L525,628.7 L518.2,628.7" fill="none" stroke="#111" stroke-width="1.1"/>
<path d="M525,525.9 L531,525.9" fill="none" stroke="#111" stroke-width="1.1"/>
<path d="M518.2,633.3 L525,633.3 L525,722 L518.2,722" fill="none" stroke="#111" stroke-width="1.1"/>
<path d="M525,680 L531,680" fill="none" stroke="#111" stroke-width="1.1"/>
<path d="M316.5,673.8 L310.8,675 L324,729.75 L330.7,729" fill="none" stroke="#111" stroke-width="1.1"/>
<path d="M312.7,704.2 L316.5,703.5" fill="none" stroke="#111" stroke-width="1.1"/>
<path d="M380,743.3 L386,743.3 L386,771.6 L380,771.6" fill="none" stroke="#111" stroke-width="1.1"/>
<path d="M386,759 L392,759" fill="none" stroke="#111" stroke-width="1.1"/>
<path d="M870.4,612 L781,626" fill="none" stroke="#111" stroke-width="0.9"/>
<path d="M922.6,612 L971,618" fill="none" stroke="#111" stroke-width="0.9"/>
<path d="M865,640 L808.5,652" fill="none" stroke="#111" stroke-width="0.9"/>
<path d="M932.3,640 L966,638.7" fill="none" stroke="#111" stroke-width="0.9"/>
<path d="M971,624 L966,624 L966,653.3 L971,653.3" fill="none" stroke="#111" stroke-width="0.9"/>
<path d="M851,665.4 L813,674" fill="none" stroke="#111" stroke-width="0.9"/>
<path d="M945,665.4 L966,666" fill="none" stroke="#111" stroke-width="0.9"/>
<path d="M971,655.7 L966,655.7 L966,678.1 L971,678.1" fill="none" stroke="#111" stroke-width="0.9"/>
<path d="M838,694.5 L811,695" fill="none" stroke="#111" stroke-width="0.9"/>
<path d="M957,695 L966,695" fill="none" stroke="#111" stroke-width="0.9"/>
<path d="M971,683.4 L966,683.4 L966,707.3 L971,707.3" fill="none" stroke="#111" stroke-width="0.9"/>
<path d="M876,711 L805,706.7" fill="none" stroke="#111" stroke-width="0.9"/>
<path d="M919,711 L976,716.4" fill="none" stroke="#111" stroke-width="0.9"/>
<path d="M944,437 L978,455" fill="none" stroke="#111" stroke-width="0.9"/>
<path d="M1089,618 L1050,635.25 L1032,645" fill="none" stroke="#111" stroke-width="0.9"/>
<path d="M1087.5,640.4 L1067.25,642.75" fill="none" stroke="#111" stroke-width="0.9"/>
<path d="M1088.25,665.25 L1050,651 L1040,648" fill="none" stroke="#111" stroke-width="0.9"/>
<path d="M1494.5,170.3 L1543,197.6" fill="none" stroke="#111" stroke-width="0.9"/>
<path d="M1851,275 L1880.4,187.3 L1903.8,286.6" fill="none" stroke="#111" stroke-width="1.3"/>
<path d="M1620,686 L1527.8,688.6 L1640.6,709" fill="none" stroke="#111" stroke-width="0.9"/>
<path d="M1554.6,739.7 L1620,746" fill="none" stroke="#111" stroke-width="0.9"/>
<path d="M1539,785 L1632.4,789.3" fill="none" stroke="#111" stroke-width="0.9"/>
<path d="M1637,811.7 L1547,826 L1637,828.2" fill="none" stroke="#111" stroke-width="0.9"/>
<path d="M1547,924 L1598,931.8" fill="none" stroke="#111" stroke-width="0.9"/>
<path d="M1573,943 L1591,946.4" fill="none" stroke="#111" stroke-width="0.9"/>
<path d="M1534,963 L1588.6,958.5" fill="none" stroke="#111" stroke-width="0.9"/>
</g>
<g id="titles">
<text x="548.53" y="94.80" font-size="75.29" font-weight="bold" fill="#000" stroke="#000" stroke-width="3" textLength="306.22" lengthAdjust="spacingAndGlyphs">CELIAC</text>
<text x="882.57" y="94.80" font-size="75.29" font-weight="bold" fill="#000" stroke="#000" stroke-width="3" textLength="356.09" lengthAdjust="spacingAndGlyphs">DISEASE</text>
<text x="551.03" y="157.10" font-size="36.34" fill="#000" stroke="#000" stroke-width="0.2" textLength="195.21" lengthAdjust="spacingAndGlyphs">DAMAGED</text>
<text x="758.66" y="157.10" font-size="36.34" fill="#000" stroke="#000" stroke-width="0.2" textLength="125.30" lengthAdjust="spacingAndGlyphs">SMALL</text>
<text x="896.00" y="157.10" font-size="36.34" fill="#000" stroke="#000" stroke-width="0.2" textLength="197.82" lengthAdjust="spacingAndGlyphs">INTESTINE</text>
<text x="1105.85" y="157.10" font-size="36.34" fill="#000" stroke="#000" stroke-width="0.2" textLength="132.01" lengthAdjust="spacingAndGlyphs">LINING</text>
<text x="539.13" y="228.70" font-size="36.34" fill="#000" stroke="#000" stroke-width="0.2" textLength="8.94" lengthAdjust="spacingAndGlyphs">I</text>
<text x="546.36" y="228.70" font-size="29.94" fill="#000" stroke="#000" stroke-width="0.2" textLength="170.57" lengthAdjust="spacingAndGlyphs">NTESTINAL</text>
<text x="726.96" y="228.70" font-size="29.94" fill="#000" stroke="#000" stroke-width="0.2" textLength="73.86" lengthAdjust="spacingAndGlyphs">VILLI</text>
<text x="808.71" y="228.70" font-size="29.94" fill="#000" stroke="#000" stroke-width="0.2" textLength="47.40" lengthAdjust="spacingAndGlyphs">DO</text>
<text x="864.26" y="228.70" font-size="29.94" fill="#000" stroke="#000" stroke-width="0.2" textLength="65.35" lengthAdjust="spacingAndGlyphs">NOT</text>
<text x="941.04" y="228.70" font-size="29.94" fill="#000" stroke="#000" stroke-width="0.2" textLength="121.39" lengthAdjust="spacingAndGlyphs">ABSORB</text>
<text x="1071.53" y="228.70" font-size="29.94" fill="#000" stroke="#000" stroke-width="0.2" textLength="172.05" lengthAdjust="spacingAndGlyphs">NUTRIENTS</text>
<text x="598.59" y="272.00" font-size="28.92" fill="#000" stroke="#000" stroke-width="0.2" textLength="140.58" lengthAdjust="spacingAndGlyphs">BECAUSE</text>
<text x="749.23" y="272.00" font-size="28.92" fill="#000" stroke="#000" stroke-width="0.2" textLength="40.23" lengthAdjust="spacingAndGlyphs">OF</text>
<text x="800.06" y="272.00" font-size="28.92" fill="#000" stroke="#000" stroke-width="0.2" textLength="147.17" lengthAdjust="spacingAndGlyphs">REDUCED</text>
<text x="956.30" y="272.00" font-size="28.92" fill="#000" stroke="#000" stroke-width="0.2" textLength="136.42" lengthAdjust="spacingAndGlyphs">SURFACE</text>
<text x="1104.04" y="272.00" font-size="28.92" fill="#000" stroke="#000" stroke-width="0.2" textLength="79.81" lengthAdjust="spacingAndGlyphs">AREA</text>
<text x="193.43" y="816.35" font-size="25.73" font-weight="bold" fill="#000" stroke="#000" stroke-width="1.3" textLength="301.83" lengthAdjust="spacingAndGlyphs">GASTROINTESTINAL</text>
<text x="295.32" y="857.35" font-size="25.44" font-weight="bold" fill="#000" stroke="#000" stroke-width="1.3" textLength="98.84" lengthAdjust="spacingAndGlyphs">TRACT</text>
<text x="692.09" y="821.35" font-size="27.62" font-weight="bold" fill="#000" stroke="#000" stroke-width="1.3" textLength="103.29" lengthAdjust="spacingAndGlyphs">SMALL</text>
<text x="656.79" y="853.75" font-size="27.62" font-weight="bold" fill="#000" stroke="#000" stroke-width="1.3" textLength="168.83" lengthAdjust="spacingAndGlyphs">INTESTINE</text>
<text x="962.88" y="804.35" font-size="27.18" font-weight="bold" fill="#000" stroke="#000" stroke-width="1.3" textLength="166.60" lengthAdjust="spacingAndGlyphs">A FOLD OF</text>
<text x="921.29" y="837.35" font-size="27.18" font-weight="bold" fill="#000" stroke="#000" stroke-width="1.3" textLength="261.04" lengthAdjust="spacingAndGlyphs">THE INTESTINAL</text>
<text x="990.48" y="870.35" font-size="27.18" font-weight="bold" fill="#000" stroke="#000" stroke-width="1.3" textLength="109.88" lengthAdjust="spacingAndGlyphs">LINING</text>
<text x="1587.28" y="113.85" font-size="26.74" fill="#111" stroke="#111" stroke-width="0.3" textLength="158.65" lengthAdjust="spacingAndGlyphs">NUTRIENTS</text>
<text x="1551.44" y="434.95" font-size="26.89" fill="#111" stroke="#111" stroke-width="0.3" textLength="225.53" lengthAdjust="spacingAndGlyphs">DAMAGED VILLI</text>
<text x="1628.87" y="605.25" font-size="26.89" fill="#111" stroke="#111" stroke-width="0.3" textLength="158.85" lengthAdjust="spacingAndGlyphs">NUTRIENTS</text>
<text x="1607.54" y="1036.65" font-size="27.18" fill="#111" stroke="#111" stroke-width="0.3" textLength="202.22" lengthAdjust="spacingAndGlyphs">NORMAL VILLI</text>
</g>
</svg>
</body></html>
